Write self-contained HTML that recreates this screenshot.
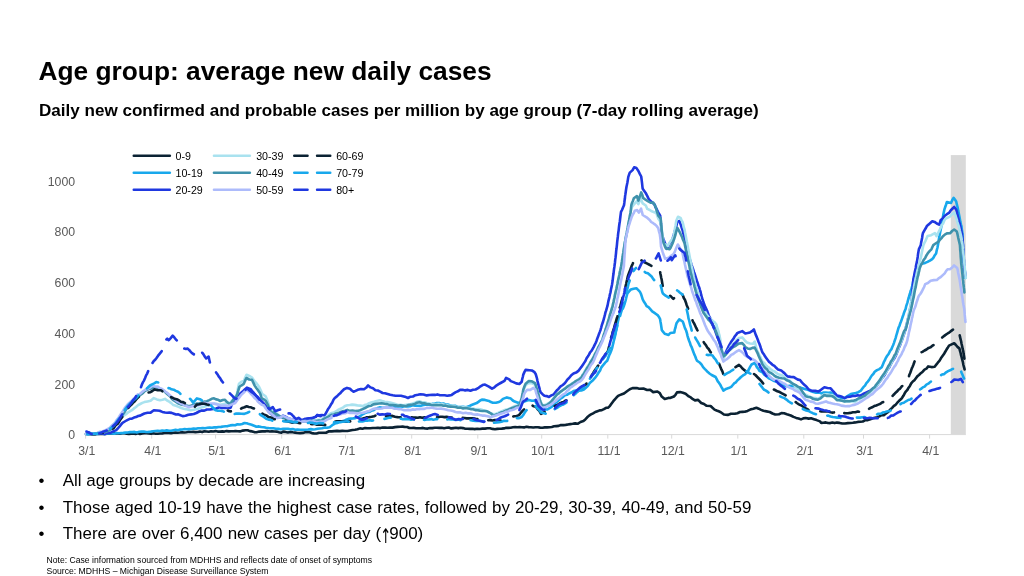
<!DOCTYPE html>
<html lang="en"><head><meta charset="utf-8"><title>Age group: average new daily cases</title>
<style>
html,body{margin:0;padding:0;background:#fff}
body{width:1024px;height:576px;position:relative;overflow:hidden;font-family:"Liberation Sans",sans-serif;color:#000}
.t{position:absolute;white-space:nowrap;margin:0}
h1.t{left:38.5px;font-size:26.3px;line-height:30px;font-weight:bold}
h2.t{left:39px;font-size:17.07px;line-height:20px;font-weight:bold}
.b{font-size:16.97px;line-height:20px;left:38.6px}
.b span.d{display:inline-block;width:24.1px}
.ar{font-family:"DejaVu Sans",sans-serif;font-size:14px;display:inline-block;width:8px;text-align:center;transform:translate(-1.2px,2.9px) scale(0.95,1.45);transform-origin:50% 60%;font-weight:normal}
  .n{font-size:8.63px;line-height:10px;left:46.5px}
svg text.ax{font-family:"Liberation Sans",sans-serif;font-size:12.3px;fill:#595959}
svg text.lg{font-family:"Liberation Sans",sans-serif;font-size:10.67px;fill:#000}
</style></head><body>
<h1 class="t" style="top:56.19px">Age group: average new daily cases</h1>
<h2 class="t" style="top:101.39px">Daily new confirmed and probable cases per million by age group (7-day rolling average)</h2>
<svg width="1024" height="576" viewBox="0 0 1024 576" style="position:absolute;left:0;top:0">
<rect x="950.8" y="155.1" width="15" height="279.4" fill="#d9d9d9"/>
<line x1="85.6" y1="434.6" x2="965.8" y2="434.6" stroke="#d9d9d9" stroke-width="1"/>
<line x1="85.6" y1="434.6" x2="85.6" y2="438.6" stroke="#d9d9d9" stroke-width="1"/>
<text x="86.8" y="454.6" text-anchor="middle" class="ax">3/1</text>
<line x1="151.7" y1="434.6" x2="151.7" y2="438.6" stroke="#d9d9d9" stroke-width="1"/>
<text x="152.9" y="454.6" text-anchor="middle" class="ax">4/1</text>
<line x1="215.6" y1="434.6" x2="215.6" y2="438.6" stroke="#d9d9d9" stroke-width="1"/>
<text x="216.8" y="454.6" text-anchor="middle" class="ax">5/1</text>
<line x1="281.7" y1="434.6" x2="281.7" y2="438.6" stroke="#d9d9d9" stroke-width="1"/>
<text x="282.9" y="454.6" text-anchor="middle" class="ax">6/1</text>
<line x1="345.6" y1="434.6" x2="345.6" y2="438.6" stroke="#d9d9d9" stroke-width="1"/>
<text x="346.8" y="454.6" text-anchor="middle" class="ax">7/1</text>
<line x1="411.7" y1="434.6" x2="411.7" y2="438.6" stroke="#d9d9d9" stroke-width="1"/>
<text x="412.9" y="454.6" text-anchor="middle" class="ax">8/1</text>
<line x1="477.8" y1="434.6" x2="477.8" y2="438.6" stroke="#d9d9d9" stroke-width="1"/>
<text x="479.0" y="454.6" text-anchor="middle" class="ax">9/1</text>
<line x1="541.7" y1="434.6" x2="541.7" y2="438.6" stroke="#d9d9d9" stroke-width="1"/>
<text x="542.9" y="454.6" text-anchor="middle" class="ax">10/1</text>
<line x1="607.8" y1="434.6" x2="607.8" y2="438.6" stroke="#d9d9d9" stroke-width="1"/>
<text x="609.0" y="454.6" text-anchor="middle" class="ax">11/1</text>
<line x1="671.7" y1="434.6" x2="671.7" y2="438.6" stroke="#d9d9d9" stroke-width="1"/>
<text x="672.9" y="454.6" text-anchor="middle" class="ax">12/1</text>
<line x1="737.8" y1="434.6" x2="737.8" y2="438.6" stroke="#d9d9d9" stroke-width="1"/>
<text x="739.0" y="454.6" text-anchor="middle" class="ax">1/1</text>
<line x1="803.8" y1="434.6" x2="803.8" y2="438.6" stroke="#d9d9d9" stroke-width="1"/>
<text x="805.0" y="454.6" text-anchor="middle" class="ax">2/1</text>
<line x1="863.5" y1="434.6" x2="863.5" y2="438.6" stroke="#d9d9d9" stroke-width="1"/>
<text x="864.7" y="454.6" text-anchor="middle" class="ax">3/1</text>
<line x1="929.6" y1="434.6" x2="929.6" y2="438.6" stroke="#d9d9d9" stroke-width="1"/>
<text x="930.8" y="454.6" text-anchor="middle" class="ax">4/1</text>
<text x="75.1" y="439.4" text-anchor="end" class="ax">0</text>
<text x="75.1" y="388.7" text-anchor="end" class="ax">200</text>
<text x="75.1" y="337.9" text-anchor="end" class="ax">400</text>
<text x="75.1" y="287.2" text-anchor="end" class="ax">600</text>
<text x="75.1" y="236.4" text-anchor="end" class="ax">800</text>
<text x="75.1" y="185.7" text-anchor="end" class="ax">1000</text>
<path d="M86.0,434.0 L88.4,433.9 L90.9,433.7 L93.3,434.1 L95.7,433.6 L98.1,434.0 L100.6,433.9 L103.0,433.6 L105.4,433.9 L107.9,433.5 L110.3,433.7 L112.7,433.4 L115.1,433.3 L117.6,433.5 L120.0,433.8 L122.2,433.2 L124.4,433.3 L126.7,433.6 L128.9,433.9 L131.1,433.6 L133.3,433.4 L135.6,433.9 L137.8,433.2 L140.0,433.9 L142.2,433.4 L144.4,433.3 L146.7,433.2 L148.9,433.4 L151.1,433.8 L153.3,433.3 L155.6,433.7 L157.8,433.7 L160.0,433.5 L162.2,433.5 L164.4,433.0 L166.6,432.9 L168.9,432.9 L171.1,433.1 L173.3,432.8 L175.5,432.6 L177.7,432.7 L179.9,432.5 L182.1,432.2 L184.4,432.5 L186.6,432.3 L188.8,431.8 L191.0,432.0 L193.2,431.9 L195.5,432.1 L197.7,432.0 L199.9,431.6 L202.1,432.1 L204.4,431.3 L206.6,431.5 L208.8,431.8 L211.0,431.2 L213.3,431.5 L215.5,431.1 L217.7,431.6 L220.0,431.6 L222.2,431.4 L224.4,431.6 L226.6,431.1 L228.9,431.4 L231.1,431.2 L233.3,431.2 L235.5,431.0 L237.8,431.3 L240.0,431.4 L242.8,430.6 L245.5,430.3 L247.7,430.2 L249.9,431.1 L252.1,431.4 L254.3,432.1 L256.5,432.3 L259.3,431.6 L262.2,431.4 L265.0,431.4 L267.3,431.0 L269.7,431.5 L272.0,431.4 L274.3,431.5 L276.7,431.6 L279.0,432.3 L281.4,432.7 L283.0,431.6 L285.4,431.9 L287.9,432.4 L290.3,431.9 L292.7,432.3 L295.1,432.6 L297.6,433.0 L300.0,433.1 L302.9,432.9 L305.8,432.1 L308.8,432.0 L311.9,433.1 L314.2,433.5 L316.6,433.5 L318.9,432.8 L321.3,432.7 L323.6,432.7 L326.0,432.7 L329.0,431.3 L331.7,431.4 L334.3,431.1 L337.0,430.9 L339.7,431.1 L342.3,430.9 L345.0,431.0 L347.5,431.0 L350.0,430.5 L352.5,430.0 L355.0,429.7 L357.5,429.3 L360.0,428.4 L362.5,428.7 L365.0,428.1 L367.6,428.3 L370.2,428.3 L372.8,428.0 L375.4,428.0 L377.8,427.7 L380.3,428.1 L382.7,427.6 L385.1,427.6 L387.6,427.7 L390.0,427.6 L392.5,427.6 L395.1,427.1 L397.6,426.9 L400.2,426.8 L402.7,426.6 L404.9,427.0 L407.1,427.0 L409.4,428.0 L411.6,428.0 L413.8,427.9 L416.0,428.2 L418.3,428.2 L420.7,428.2 L423.0,427.9 L425.3,428.5 L427.7,428.6 L430.0,428.1 L432.3,428.1 L434.7,427.7 L437.0,427.7 L439.4,427.9 L441.7,427.8 L444.1,428.3 L446.5,427.8 L448.8,427.6 L451.2,428.4 L453.5,428.1 L455.9,427.8 L458.3,428.1 L460.6,427.7 L463.0,428.1 L465.3,428.7 L467.6,428.8 L470.0,428.9 L472.3,428.8 L474.6,429.1 L477.2,428.7 L479.8,429.0 L482.4,428.6 L485.0,428.6 L487.5,428.3 L490.0,428.3 L492.5,428.9 L495.0,429.2 L497.2,428.9 L499.5,428.7 L501.7,428.6 L504.0,428.4 L506.2,427.8 L508.4,427.9 L510.7,427.7 L512.9,427.3 L515.2,427.1 L517.4,427.2 L519.6,427.0 L521.9,427.3 L524.1,427.4 L526.4,426.8 L528.6,427.1 L530.9,427.3 L533.2,427.5 L535.5,427.2 L537.9,427.3 L540.2,427.6 L542.5,427.7 L544.8,427.4 L547.1,427.4 L549.5,427.3 L551.8,427.0 L554.1,426.3 L556.4,426.1 L558.7,425.9 L561.0,425.0 L563.3,425.1 L565.7,424.9 L568.0,424.5 L570.3,424.1 L572.7,423.8 L575.2,423.4 L577.6,423.8 L580.5,422.0 L583.4,421.0 L585.3,419.4 L587.2,417.3 L589.1,415.6 L591.0,414.4 L593.1,413.4 L595.3,412.0 L597.5,411.2 L599.6,410.4 L601.8,410.2 L603.9,409.2 L606.1,407.8 L608.2,407.6 L610.0,405.8 L611.6,403.5 L613.3,401.2 L614.9,399.3 L616.5,397.5 L618.1,395.9 L619.7,395.1 L621.9,394.3 L624.0,393.5 L627.0,391.2 L629.8,389.2 L632.5,388.1 L636.8,388.1 L639.2,388.7 L643.4,388.5 L647.1,390.0 L650.1,389.7 L653.2,392.1 L657.4,391.5 L659.8,393.1 L661.7,396.6 L664.7,399.0 L668.4,397.9 L670.0,398.0 L673.9,396.5 L675.5,394.8 L677.0,392.4 L680.2,392.1 L682.9,392.7 L685.6,393.7 L688.8,396.4 L690.8,397.4 L692.9,399.2 L695.0,400.4 L698.1,399.9 L701.2,403.0 L704.0,404.0 L706.7,405.8 L710.6,406.0 L712.5,407.8 L714.5,409.6 L716.6,410.5 L718.7,411.3 L720.8,412.2 L723.9,414.5 L727.8,414.9 L730.9,413.8 L734.8,413.8 L737.4,413.2 L740.0,412.0 L742.4,411.9 L744.7,411.8 L747.5,410.9 L750.2,409.6 L753.3,408.7 L756.4,407.7 L758.7,408.7 L761.1,409.9 L763.4,410.8 L766.5,411.4 L769.7,412.0 L772.5,413.5 L775.2,414.5 L779.0,414.2 L781.4,413.1 L784.1,413.3 L786.9,414.3 L790.8,415.5 L793.5,416.9 L796.2,417.9 L798.6,418.5 L801.0,419.4 L803.3,418.4 L805.6,418.0 L808.8,418.6 L811.1,418.3 L813.9,419.2 L816.6,420.1 L820.0,421.4 L821.2,422.9 L823.5,422.8 L825.7,422.4 L828.0,423.0 L830.2,423.1 L832.4,422.5 L834.7,423.1 L836.9,422.6 L839.6,422.9 L842.3,423.5 L845.1,423.5 L847.8,423.1 L850.3,423.0 L852.8,422.8 L855.3,422.4 L857.8,421.9 L860.3,421.7 L862.8,421.5 L865.3,420.2 L867.8,420.1 L870.3,419.3 L872.8,418.3 L875.0,417.8 L877.2,417.3 L879.4,416.4 L881.6,415.2 L883.8,415.2 L886.0,413.4 L888.2,411.9 L890.4,409.5 L892.1,407.9 L893.9,405.9 L895.6,404.8 L897.3,402.7 L899.1,400.8 L900.8,399.3 L902.1,397.8 L903.4,395.8 L904.7,393.3 L906.0,391.3 L907.3,390.0 L908.6,387.7 L909.9,385.9 L911.2,383.4 L912.8,381.5 L914.4,380.2 L915.9,378.2 L917.5,376.1 L919.0,375.0 L920.8,373.2 L922.7,371.7 L924.5,369.6 L926.4,368.7 L928.2,366.4 L931.5,367.1 L934.7,366.8 L936.3,364.6 L937.8,362.7 L939.4,360.9 L940.9,358.3 L942.5,356.1 L943.8,354.3 L945.1,352.0 L946.4,349.8 L947.7,347.8 L949.0,345.6 L951.6,344.4 L954.2,343.2 L955.9,345.0 L957.7,347.1 L959.4,348.4 L960.0,350.9 L960.6,353.0 L961.1,355.4 L961.7,357.4 L962.3,359.9 L962.9,362.1 L963.4,365.0 L964.0,367.1 L964.6,369.4" fill="none" stroke="#0b2233" stroke-width="2.6" stroke-linejoin="round" stroke-linecap="round"/>
<path d="M86.0,434.0 L88.4,433.7 L90.8,433.9 L93.2,434.2 L95.6,433.5 L98.0,434.0 L100.4,433.6 L102.8,433.6 L105.2,433.9 L107.6,433.5 L110.0,433.5 L112.2,433.5 L114.4,433.7 L116.7,433.0 L118.9,433.3 L121.1,433.1 L123.3,432.9 L125.6,432.6 L127.8,432.5 L130.0,432.1 L132.3,432.1 L134.6,431.9 L136.9,432.4 L139.2,431.8 L141.5,431.6 L143.8,431.5 L146.2,432.0 L148.5,431.9 L150.8,431.6 L153.1,431.2 L155.4,431.0 L157.7,430.9 L160.0,431.0 L162.2,430.6 L164.5,430.7 L166.7,430.4 L168.9,430.8 L171.2,430.7 L173.4,430.2 L175.6,429.8 L177.9,430.2 L180.1,429.6 L182.3,429.5 L184.6,429.0 L186.8,429.2 L189.0,429.1 L191.2,429.0 L193.6,428.6 L195.9,428.8 L198.2,428.2 L200.5,428.3 L202.8,428.0 L205.1,428.2 L207.4,427.8 L209.7,427.6 L212.0,427.7 L214.2,427.4 L216.5,427.4 L218.7,427.0 L221.0,426.9 L223.2,426.5 L225.5,426.3 L227.7,426.1 L230.2,425.4 L232.6,425.1 L235.1,425.3 L237.5,424.3 L240.0,424.5 L242.2,424.0 L244.5,423.0 L246.7,423.2 L249.1,424.1 L251.6,424.8 L254.1,425.8 L256.5,426.8 L258.9,426.4 L261.3,427.0 L263.8,427.2 L266.2,427.7 L268.6,428.0 L271.0,428.2 L273.5,428.3 L275.9,428.8 L278.4,428.9 L280.8,429.2 L283.2,428.8 L285.6,428.8 L288.0,428.9 L290.4,429.2 L292.8,429.0 L295.2,429.7 L297.6,429.6 L300.0,429.7 L302.7,429.7 L305.4,429.7 L308.1,429.5 L310.8,429.1 L313.1,429.5 L315.3,429.2 L317.6,428.7 L319.9,428.5 L322.1,428.3 L324.4,427.5 L327.0,427.8 L329.6,427.2 L332.2,425.2 L334.8,423.6 L337.2,423.1 L339.6,421.7 L342.0,421.3 L344.1,420.8 L346.2,419.7 L348.3,418.9 L350.6,418.6 L353.0,418.4 L355.4,418.1 L357.7,417.6 L360.1,416.2 L362.6,414.3 L365.0,413.0 L367.1,412.3 L369.1,412.0 L371.2,410.8 L373.3,410.3 L375.4,408.9 L377.5,408.1 L379.6,407.4 L382.2,407.7 L384.8,407.8 L387.4,407.7 L390.0,407.4 L392.5,407.3 L395.0,407.0 L397.5,406.7 L400.0,406.2 L402.5,406.7 L405.0,405.9 L407.5,406.4 L410.0,406.2 L412.5,405.3 L415.0,405.6 L417.5,405.8 L420.0,405.9 L422.5,405.2 L425.0,404.8 L427.5,404.5 L430.0,404.9 L432.2,403.9 L434.5,403.8 L436.8,403.1 L439.0,403.0 L441.2,403.8 L443.4,403.5 L445.6,404.5 L447.8,404.6 L450.0,405.3 L452.5,405.7 L455.0,405.8 L457.5,406.8 L460.0,407.0 L463.1,406.9 L466.2,407.2 L468.9,406.3 L471.5,405.0 L474.1,404.0 L476.7,403.1 L478.4,401.9 L480.2,400.5 L481.9,399.6 L485.0,399.9 L488.9,400.9 L490.9,402.1 L492.8,402.7 L495.9,402.8 L499.0,402.0 L501.0,400.8 L503.0,398.9 L506.9,397.4 L510.8,398.6 L512.8,400.5 L514.7,401.6 L518.6,402.9 L521.7,402.5 L524.1,401.6 L526.4,400.7 L528.8,400.0 L531.9,400.8 L535.0,400.5 L536.2,403.0 L537.5,404.4 L538.7,406.3 L540.9,408.3 L543.0,409.7 L545.2,409.4 L547.4,409.5 L549.5,408.1 L551.7,406.8 L553.9,404.5 L556.1,402.5 L558.2,400.8 L560.4,398.7 L562.6,397.4 L564.8,395.3 L567.0,394.8 L569.1,393.5 L571.3,392.5 L573.5,391.1 L576.1,390.5 L578.7,390.0 L581.3,390.5 L583.9,389.5 L585.6,388.1 L587.4,386.4 L589.1,383.9 L590.9,381.9 L593.0,380.2 L595.2,377.6 L596.8,375.5 L598.5,372.8 L600.1,370.5 L601.2,367.6 L602.7,365.6 L604.2,363.8 L605.7,362.0 L607.2,360.7 L608.2,358.0 L609.2,355.3 L610.1,353.4 L611.1,351.1 L612.1,348.2 L612.7,345.5 L613.3,343.2 L613.8,340.8 L614.4,338.6 L615.0,336.1 L615.5,333.9 L615.9,331.7 L616.4,329.7 L616.8,327.7 L617.2,325.4 L617.7,322.8 L618.1,320.6 L618.6,318.4 L619.0,316.0 L619.5,313.8 L620.6,311.6 L621.8,309.8 L622.9,308.4 L624.0,305.7 L624.7,303.5 L625.4,301.1 L626.0,298.8 L626.7,295.8 L627.4,293.3 L629.1,291.3 L630.8,289.5 L633.6,288.7 L636.4,288.3 L638.1,289.9 L639.8,291.6 L640.8,293.5 L641.7,296.2 L642.7,299.4 L644.0,301.8 L645.3,303.7 L646.6,306.1 L648.5,307.2 L650.3,309.2 L652.2,311.4 L654.1,312.6 L656.0,314.0 L657.9,315.4 L659.0,317.0 L660.1,319.2 L660.5,321.8 L661.0,324.6 L661.4,327.3 L661.8,330.1 L663.2,331.8 L664.7,333.7 L668.6,334.9 L670.3,333.0 L674.3,332.5 L674.8,329.7 L675.4,327.9 L676.0,325.1 L676.5,323.3 L677.9,321.3 L679.3,319.3 L682.7,321.5 L683.6,323.8 L684.4,326.4 L685.2,328.7 L686.1,330.5 L686.9,333.1 L687.6,336.1 L688.4,338.8 L689.1,340.7 L689.9,342.7 L690.6,345.1 L691.5,346.8 L692.4,349.3 L693.3,351.7 L694.3,354.4 L695.2,356.3 L696.1,358.8 L697.0,360.7 L700.0,362.8 L701.6,364.7 L703.1,367.2 L704.7,368.9 L706.2,370.4 L707.8,372.1 L709.8,373.7 L711.7,375.0 L713.6,376.0 L715.6,377.0 L716.7,379.2 L717.8,381.4 L718.9,382.7 L720.1,384.4 L721.2,386.6 L722.3,388.5 L723.4,390.7 L726.0,388.9 L728.6,388.1 L731.2,386.8 L732.8,385.0 L734.4,383.2 L735.9,382.3 L737.5,380.2 L739.0,379.0 L741.0,377.0 L743.0,375.4 L744.9,374.3 L746.9,372.3 L748.1,370.9 L749.2,368.6 L750.4,366.4 L751.6,364.5 L754.7,362.9 L755.9,365.1 L757.0,367.4 L758.2,368.7 L759.4,370.9 L762.5,372.3 L764.1,374.5 L765.6,375.3 L767.2,376.8 L768.8,378.4 L771.1,379.4 L773.4,380.7 L775.8,381.4 L778.1,382.1 L780.1,383.5 L782.0,384.6 L784.0,385.3 L786.0,386.3 L790.0,385.9 L792.5,386.3 L795.0,386.2 L797.5,387.3 L800.0,387.6 L802.5,388.2 L804.7,388.9 L806.9,389.6 L809.0,390.2 L811.2,391.2 L813.4,392.1 L816.0,392.8 L818.6,392.4 L821.2,393.4 L823.6,392.6 L825.9,392.5 L828.3,392.7 L830.6,392.5 L832.7,393.7 L834.8,395.0 L836.9,396.9 L839.5,397.3 L842.1,398.3 L844.7,398.1 L846.5,396.7 L848.3,395.6 L850.8,394.1 L853.3,393.5 L855.8,393.0 L858.3,392.2 L860.8,390.7 L862.2,388.8 L863.6,386.9 L865.0,385.6 L866.4,383.1 L867.8,381.6 L869.2,379.8 L870.6,377.4 L871.9,375.4 L873.3,374.0 L874.7,371.8 L877.0,370.1 L879.4,369.1 L881.7,367.3 L882.7,364.9 L883.8,362.2 L884.8,360.4 L885.8,358.1 L887.2,355.8 L888.6,354.0 L890.0,351.1 L891.4,349.2 L892.2,347.2 L893.1,345.3 L893.9,343.1 L894.8,340.4 L895.6,338.1 L896.3,335.5 L897.1,332.8 L897.8,330.4 L898.6,327.6 L899.4,326.0 L900.1,323.8 L900.9,321.8 L901.7,319.6 L902.5,317.3 L903.3,315.0 L904.0,312.8 L904.8,310.8 L905.6,309.0 L906.2,306.2 L906.9,304.1 L907.5,302.4 L908.1,299.8 L908.8,297.5 L909.4,295.2 L910.0,293.5 L910.6,291.1 L911.3,289.5 L911.9,287.2 L912.5,285.1 L913.0,282.2 L913.6,279.8 L914.1,277.6 L914.7,275.7 L915.2,273.7 L915.8,271.2 L917.4,268.7 L918.9,266.5 L920.5,264.3 L922.9,263.6 L925.2,262.9 L927.5,261.9 L929.9,260.7 L932.2,259.2 L933.5,257.7 L934.8,255.2 L936.1,253.4 L936.7,250.4 L937.4,248.0 L938.0,244.7 L938.4,242.3 L938.8,239.8 L939.2,237.2 L939.6,235.3 L940.1,232.5 L940.7,229.7 L941.2,227.1 L941.7,225.0 L942.1,222.1 L942.5,219.3 L942.9,217.3 L943.3,214.6 L943.8,212.4 L944.5,209.1 L945.3,206.8 L946.1,204.5 L946.9,202.0 L951.0,203.0 L952.3,200.0 L953.6,197.8 L954.9,199.5 L956.2,201.4 L957.0,205.2 L957.8,208.1 L958.2,210.6 L958.6,212.5 L959.1,215.1 L959.5,217.1 L959.9,219.2 L960.4,222.1 L961.0,224.6 L961.5,226.4 L961.8,229.2 L962.2,231.7 L962.5,233.8 L962.6,236.2 L962.6,238.2 L962.7,240.6 L962.8,242.9 L962.9,245.4 L962.9,247.8 L963.0,249.7 L963.1,251.8 L963.2,254.3 L963.2,256.9 L963.3,258.7 L963.6,261.2 L963.8,263.5 L964.1,266.4 L964.3,268.5 L964.6,270.5 L964.9,272.9 L965.1,275.5 L965.4,278.0" fill="none" stroke="#18a8ec" stroke-width="2.6" stroke-linejoin="round" stroke-linecap="round"/>
<path d="M86.5,431.5 L86.6,431.7 L88.1,432.2 L91.2,433.4 L93.5,433.4 L95.7,433.9 L97.9,433.6 L100.1,433.5 L102.3,433.5 L104.5,434.1 L107.7,432.9 L110.8,432.6 L113.5,431.2 L116.2,430.1 L117.8,428.5 L119.4,426.7 L121.0,424.6 L122.5,422.8 L125.6,421.0 L127.7,419.8 L129.8,418.8 L131.9,418.7 L134.0,417.6 L136.0,417.1 L138.1,416.0 L140.2,415.6 L142.3,414.5 L144.4,413.5 L147.5,412.8 L150.6,412.6 L153.8,410.3 L156.9,410.5 L159.6,410.7 L162.3,411.9 L165.0,412.5 L167.2,412.8 L169.5,412.6 L171.7,412.9 L173.9,413.7 L176.1,414.5 L178.3,414.4 L180.5,415.3 L182.7,416.1 L185.5,415.8 L188.4,414.8 L191.2,414.4 L193.8,414.0 L196.4,413.0 L199.0,411.5 L201.6,410.5 L204.3,410.6 L206.9,409.5 L210.0,409.5 L213.1,408.9 L216.2,408.5 L219.4,407.3 L221.7,408.0 L224.1,407.6 L226.4,407.9 L230.3,407.9 L230.8,407.3 L232.0,403.7 L233.1,401.8 L234.1,400.0 L235.2,398.1 L237.0,396.4 L238.8,394.7 L240.6,393.2 L242.6,391.6 L244.5,389.8 L246.9,387.6 L250.8,389.2 L252.4,391.5 L253.9,393.0 L255.9,395.6 L257.8,397.0 L259.4,399.0 L260.9,400.5 L262.5,402.1 L264.4,404.2 L266.4,406.6 L267.6,409.4 L268.9,411.9 L270.9,413.7 L272.8,415.1 L275.1,416.6 L277.5,417.8 L280.2,417.1 L283.0,415.8 L285.7,416.8 L288.4,418.4 L291.5,419.2 L294.7,419.8 L297.0,419.8 L299.4,420.3 L301.7,420.3 L304.8,418.9 L307.2,418.9 L309.5,418.3 L311.9,418.4 L315.8,416.9 L317.3,414.9 L319.7,415.4 L322.0,415.0 L324.4,415.6 L325.7,413.5 L327.0,411.2 L328.3,408.7 L329.6,407.0 L330.9,404.6 L332.2,402.7 L333.5,399.7 L334.8,398.0 L336.6,396.6 L338.4,394.8 L340.2,393.3 L342.0,391.2 L344.0,389.3 L347.0,387.9 L350.0,388.8 L351.8,390.5 L353.5,391.7 L355.6,390.9 L357.7,389.8 L360.9,389.0 L364.0,389.3 L366.1,387.8 L368.1,385.4 L370.5,387.4 L373.0,388.3 L375.4,390.2 L377.8,390.5 L380.2,391.7 L382.6,393.0 L385.0,393.3 L387.6,394.0 L390.2,394.8 L392.8,395.3 L395.4,395.7 L398.2,395.8 L401.0,395.8 L403.8,396.5 L405.9,397.1 L408.0,398.0 L410.5,396.7 L413.0,396.5 L415.4,395.2 L417.9,394.8 L420.4,394.2 L423.5,394.5 L426.7,395.4 L429.5,395.0 L432.2,394.8 L435.0,394.9 L437.4,394.4 L439.9,395.3 L442.3,395.2 L444.7,395.2 L447.2,395.7 L449.6,395.4 L451.7,394.9 L453.8,393.4 L455.8,392.1 L457.9,391.3 L460.0,389.9 L462.6,389.8 L465.2,390.4 L467.8,389.9 L470.4,390.7 L473.0,389.7 L475.6,389.5 L478.1,388.2 L480.5,386.3 L483.0,384.8 L484.2,384.8 L485.0,384.6 L488.9,386.6 L492.0,388.7 L494.4,387.3 L496.7,385.3 L498.6,384.1 L500.6,383.0 L504.5,380.8 L506.1,377.8 L509.2,379.3 L510.8,381.1 L513.5,382.1 L516.2,383.4 L519.4,384.0 L521.7,381.8 L522.2,379.2 L522.8,377.0 L523.3,374.6 L524.5,371.9 L525.6,369.9 L529.5,370.2 L531.9,370.5 L534.2,371.8 L535.8,374.3 L536.4,376.4 L537.0,378.5 L537.5,381.1 L538.1,383.4 L538.7,385.7 L539.3,387.7 L539.9,390.0 L540.5,392.1 L542.5,394.2 L544.4,395.7 L546.7,396.1 L549.0,396.9 L551.4,395.4 L553.8,394.4 L555.3,392.4 L556.9,390.2 L558.4,388.9 L560.6,386.4 L562.8,385.0 L565.0,383.0 L566.4,381.1 L567.7,379.2 L569.1,378.0 L571.3,375.2 L573.5,373.5 L576.1,372.6 L578.7,370.6 L580.0,368.7 L581.4,366.9 L582.9,364.7 L584.3,362.6 L585.5,360.8 L586.6,358.3 L587.8,356.5 L589.0,354.6 L590.1,352.4 L591.3,351.2 L592.5,349.1 L593.6,347.1 L594.8,344.6 L595.6,343.1 L596.5,340.9 L597.3,338.5 L598.1,336.6 L598.9,334.2 L599.8,331.9 L600.6,329.7 L601.2,327.6 L601.8,325.2 L602.5,323.3 L603.1,321.5 L603.7,319.3 L604.3,317.2 L604.9,314.9 L605.5,312.3 L606.2,310.4 L606.8,308.1 L607.4,306.2 L607.9,303.7 L608.4,301.1 L608.9,299.1 L609.4,297.1 L610.0,294.1 L610.5,292.3 L611.0,289.3 L611.5,287.1 L612.0,284.8 L612.3,282.9 L612.6,280.8 L612.9,278.3 L613.2,275.7 L613.5,273.8 L613.8,271.1 L614.1,268.7 L614.4,266.9 L614.7,264.4 L615.0,262.2 L615.2,259.9 L615.5,257.9 L615.8,255.2 L616.0,253.3 L616.2,250.9 L616.5,248.8 L616.8,246.2 L617.0,244.2 L617.2,241.8 L617.5,239.3 L617.8,237.0 L618.0,235.1 L618.3,232.4 L618.6,230.8 L618.9,227.9 L619.2,225.5 L619.5,223.3 L619.8,221.7 L620.1,219.0 L620.4,216.5 L620.7,214.2 L621.0,211.9 L622.0,210.0 L623.0,207.5 L624.0,205.2 L624.3,203.0 L624.6,200.3 L624.9,198.5 L625.1,196.1 L625.4,194.3 L625.7,192.2 L626.0,190.0 L626.5,186.8 L626.9,185.0 L627.4,182.5 L627.8,180.1 L628.3,176.9 L629.0,174.8 L629.8,172.6 L632.6,170.1 L634.1,167.3 L636.5,168.1 L638.4,171.0 L639.8,173.9 L641.2,176.5 L641.5,178.7 L641.8,181.1 L642.1,183.6 L642.4,186.6 L642.7,188.7 L644.1,190.7 L645.5,192.7 L646.5,194.5 L647.6,196.7 L648.6,198.8 L650.2,200.8 L651.7,202.1 L654.8,204.8 L655.4,207.0 L656.6,209.0 L657.8,211.6 L659.0,213.8 L660.2,215.7 L660.4,218.4 L660.7,220.8 L660.9,223.5 L661.1,225.5 L661.3,228.2 L661.5,230.5 L661.8,232.6 L662.0,235.5 L662.8,237.1 L663.6,239.9 L664.4,241.6 L665.2,243.7 L666.0,246.1 L666.8,248.8 L668.0,247.1 L669.1,244.3 L670.3,242.8 L671.4,240.9 L672.6,239.2 L673.2,236.6 L673.8,234.7 L674.4,232.5 L675.0,230.8 L675.6,228.2 L676.2,226.6 L676.8,223.9 L677.4,221.8 L679.5,221.0 L680.2,223.2 L681.0,225.3 L681.8,228.1 L682.5,230.0 L683.2,233.0 L684.0,235.4 L684.5,237.8 L685.0,240.1 L685.5,242.2 L686.0,244.7 L686.4,247.0 L686.9,249.9 L687.4,251.6 L687.9,254.6 L688.9,256.6 L689.8,259.5 L690.8,262.3 L691.6,265.1 L692.3,267.0 L693.1,269.2 L693.9,271.9 L694.6,273.6 L695.4,276.1 L696.1,278.4 L696.9,280.9 L697.7,283.2 L698.4,285.4 L699.2,287.4 L699.9,289.8 L700.6,292.0 L701.2,295.0 L701.9,297.3 L702.6,299.8 L703.3,301.7 L704.2,304.2 L705.1,306.7 L706.1,308.7 L707.0,310.5 L707.9,313.0 L708.8,315.6 L709.8,317.3 L710.7,319.4 L711.6,321.7 L712.4,324.3 L713.3,326.5 L714.1,328.1 L715.0,330.3 L715.8,332.6 L716.6,334.8 L717.5,337.2 L718.3,339.1 L719.2,341.4 L720.0,343.4 L720.6,346.3 L721.1,348.3 L721.7,350.0 L722.3,352.9 L722.8,354.4 L723.4,356.8 L724.5,355.2 L725.5,353.0 L726.5,350.8 L727.6,348.5 L728.7,346.2 L729.7,344.5 L731.0,342.1 L732.3,340.3 L733.6,338.5 L734.9,336.2 L736.2,334.6 L737.5,332.9 L739.9,332.1 L742.2,331.1 L745.3,333.5 L747.6,333.0 L750.0,332.4 L752.0,331.2 L753.9,329.4 L754.9,332.3 L755.8,334.9 L756.8,337.1 L757.8,339.8 L758.6,342.0 L759.4,343.8 L760.1,345.7 L760.9,348.2 L761.7,350.4 L762.5,352.4 L763.8,354.2 L765.0,356.3 L766.2,358.0 L767.5,359.8 L768.8,361.6 L770.6,363.0 L772.5,364.8 L774.4,365.9 L776.2,367.8 L778.1,369.6 L781.2,370.4 L782.8,371.9 L784.4,373.1 L785.9,374.8 L787.5,376.4 L790.6,376.9 L793.8,377.1 L795.8,378.4 L797.9,379.6 L800.0,380.0 L801.7,382.1 L803.4,384.0 L805.1,385.4 L806.9,387.2 L808.6,389.3 L810.3,390.2 L812.9,390.9 L815.4,390.8 L818.0,391.6 L820.1,390.5 L822.3,388.8 L824.4,387.2 L827.5,388.0 L830.6,388.3 L832.2,390.2 L833.8,391.8 L835.3,393.7 L836.9,395.6 L839.5,396.1 L842.1,396.8 L844.7,398.1 L847.3,396.9 L849.9,396.7 L852.5,395.9 L855.1,396.0 L857.7,395.2 L860.3,395.7 L863.1,394.0 L866.0,392.6 L869.0,391.3 L871.1,390.1 L873.2,388.4 L875.3,387.4 L876.7,385.6 L878.1,383.9 L879.5,381.8 L880.9,379.9 L882.3,378.0 L883.7,376.2 L885.1,374.2 L886.4,371.6 L887.8,369.2 L889.2,367.5 L890.4,365.0 L891.5,362.8 L892.7,360.6 L893.9,359.0 L895.0,357.0 L896.2,354.7 L897.1,352.3 L898.0,350.0 L899.0,347.4 L899.9,345.7 L900.8,342.9 L901.7,340.8 L902.4,338.8 L903.1,336.7 L903.9,334.3 L904.6,332.0 L905.3,330.0 L905.8,327.5 L906.4,326.0 L906.9,323.4 L907.4,321.7 L907.9,319.1 L908.5,317.0 L909.0,314.8 L909.4,312.8 L909.8,310.4 L910.2,308.1 L910.7,306.5 L911.1,304.0 L911.5,301.8 L911.7,299.4 L911.9,297.2 L912.1,294.7 L912.3,292.5 L912.5,290.1 L912.7,287.7 L912.9,286.0 L913.0,283.7 L913.2,280.8 L913.4,279.3 L913.9,277.1 L914.3,274.8 L914.8,272.0 L915.2,270.4 L915.7,268.0 L916.1,265.2 L916.6,263.0 L917.0,261.4 L917.4,258.9 L917.8,256.2 L918.1,253.7 L918.5,251.4 L918.9,249.2 L919.8,247.4 L920.8,244.9 L921.2,242.3 L921.6,240.5 L922.1,238.0 L922.5,235.0 L922.9,233.2 L924.3,230.6 L925.7,228.3 L927.1,225.7 L928.8,224.4 L930.6,222.7 L932.3,221.2 L934.6,221.9 L936.8,223.5 L939.1,224.6 L939.9,222.7 L940.6,220.3 L942.7,218.4 L944.8,215.7 L946.9,214.2 L949.0,212.9 L950.5,210.7 L952.1,209.0 L954.2,207.0 L956.2,209.5 L956.8,211.5 L957.3,214.0 L957.8,216.2 L958.5,219.1 L959.2,222.1 L959.9,224.2 L960.4,227.2 L961.0,229.3 L961.5,231.7 L962.0,234.1 L962.2,236.5 L962.4,238.3 L962.6,240.5 L962.8,243.2 L963.0,244.6 L963.1,247.4 L963.3,249.6 L963.4,251.4 L963.6,254.1 L963.7,256.4 L963.8,258.9 L964.0,260.6 L964.1,263.4 L964.3,265.3 L964.4,267.5 L964.8,270.7 L965.1,272.8 L965.5,276.0" fill="none" stroke="#1f38e0" stroke-width="2.6" stroke-linejoin="round" stroke-linecap="round"/>
<path d="M86.0,434.0 L88.2,434.2 L90.5,434.1 L92.8,433.9 L95.0,434.2 L97.9,433.2 L100.8,432.7 L103.2,432.1 L105.5,431.7 L108.2,429.9 L111.0,428.7 L112.8,426.9 L114.6,425.2 L116.5,423.6 L118.0,420.8 L119.6,418.9 L122.5,416.4 L125.6,414.5 L127.7,412.7 L129.8,411.4 L131.9,410.2 L134.0,408.4 L136.0,407.0 L138.1,405.1 L140.2,404.0 L142.3,402.9 L144.4,402.1 L147.5,401.4 L150.6,400.7 L153.8,398.1 L156.9,399.4 L160.0,400.3 L162.5,399.7 L165.0,398.9 L167.1,400.5 L169.2,401.6 L171.3,403.1 L173.4,405.1 L176.0,405.8 L178.6,406.9 L181.2,408.0 L183.6,408.7 L185.9,409.1 L188.3,409.7 L190.6,410.3 L193.8,409.8 L197.0,409.1 L199.6,408.3 L202.1,407.1 L204.7,406.6 L207.0,405.8 L209.3,405.5 L211.7,404.3 L214.0,403.7 L217.0,403.9 L220.0,404.7 L222.4,404.4 L224.8,403.8 L227.3,403.1 L229.7,403.1 L231.6,401.3 L233.6,399.4 L235.1,396.9 L236.7,394.8 L237.2,392.6 L237.6,390.2 L238.1,387.9 L238.5,385.8 L239.0,383.7 L241.4,381.8 L243.8,381.1 L245.1,377.7 L246.5,374.8 L250.0,376.2 L252.3,377.9 L254.7,381.4 L256.3,383.2 L257.8,385.0 L259.4,387.5 L260.8,390.6 L262.1,393.8 L265.6,396.2 L266.6,398.5 L267.6,401.2 L268.4,403.3 L269.1,406.1 L269.9,408.1 L271.6,410.2 L273.4,412.2 L273.5,411.1 L275.3,413.0 L277.1,413.8 L279.0,415.9 L280.8,416.5 L283.2,417.9 L285.7,418.0 L288.1,418.6 L290.6,419.9 L293.0,420.3 L295.4,420.8 L297.8,420.5 L300.1,420.5 L302.5,421.2 L304.8,421.0 L307.2,420.9 L309.5,420.7 L311.9,420.0 L314.2,420.2 L316.6,420.1 L318.9,419.7 L321.2,420.0 L323.3,418.1 L325.4,417.5 L327.5,416.0 L329.6,414.1 L331.7,412.9 L333.8,412.4 L335.9,411.5 L337.9,409.9 L340.0,409.0 L342.4,408.0 L344.9,406.1 L347.3,405.3 L349.7,405.0 L352.2,404.6 L354.6,404.9 L357.4,405.4 L360.2,405.6 L363.0,406.1 L365.1,404.8 L367.1,404.4 L369.2,403.2 L371.2,402.5 L374.0,401.8 L376.8,400.9 L379.6,400.2 L382.2,401.1 L384.8,401.7 L387.4,402.1 L390.0,402.5 L392.7,403.3 L395.4,404.1 L398.0,405.0 L400.6,404.9 L403.2,405.2 L405.8,404.9 L408.1,404.5 L410.3,404.2 L412.6,403.5 L414.9,402.7 L417.1,401.8 L419.4,401.3 L421.9,402.2 L424.4,402.3 L426.9,403.1 L429.4,403.6 L431.9,404.3 L434.2,404.4 L436.5,404.0 L438.7,403.9 L441.0,404.2 L443.3,404.4 L445.7,404.9 L448.2,405.5 L450.6,405.9 L453.0,405.5 L455.5,406.5 L457.9,406.9 L460.5,407.2 L463.1,407.2 L465.7,407.2 L468.3,407.9 L470.7,408.3 L473.1,408.6 L475.5,409.2 L477.8,409.1 L480.2,409.3 L482.6,410.1 L485.0,410.7 L487.2,411.2 L489.4,412.7 L491.7,413.9 L493.9,414.3 L496.2,413.7 L498.5,412.8 L500.9,411.7 L503.2,410.6 L505.5,409.7 L507.8,409.2 L510.0,408.4 L512.2,407.3 L514.5,406.1 L516.7,405.9 L518.9,405.0 L519.6,405.3 L520.4,403.2 L521.1,401.2 L521.9,398.8 L522.4,395.8 L523.0,393.0 L523.5,390.4 L524.6,387.5 L525.8,385.0 L528.8,383.0 L531.9,383.2 L535.0,384.5 L535.8,386.8 L536.5,388.8 L537.3,391.0 L537.9,393.0 L538.5,395.1 L539.1,398.2 L539.7,399.9 L540.9,402.3 L542.0,405.4 L544.4,405.1 L546.7,404.2 L549.0,403.0 L551.4,401.2 L553.2,399.0 L555.1,396.4 L556.9,394.1 L558.9,393.4 L561.0,391.7 L563.0,389.8 L565.0,388.4 L567.6,386.2 L570.3,384.7 L572.2,383.2 L574.0,382.4 L575.9,381.0 L577.8,379.8 L579.6,378.6 L581.5,376.8 L582.6,374.7 L583.8,372.9 L584.9,371.0 L586.1,369.1 L587.2,367.1 L588.3,365.6 L589.5,364.0 L590.6,361.8 L591.8,360.3 L592.9,358.3 L594.0,355.5 L595.0,353.9 L596.1,351.6 L597.2,349.2 L598.2,347.8 L599.3,345.1 L600.4,343.3 L601.4,341.2 L602.5,339.4 L603.2,336.8 L604.0,334.2 L604.8,332.0 L605.5,329.4 L606.2,327.7 L607.0,325.4 L607.6,322.7 L608.2,320.4 L608.9,318.5 L609.5,316.4 L610.1,314.8 L610.7,312.7 L611.4,310.5 L612.0,307.7 L612.6,306.2 L613.1,304.0 L613.6,301.7 L614.1,299.7 L614.6,296.7 L615.0,294.6 L615.5,292.9 L616.0,290.8 L616.5,288.4 L617.0,285.8 L617.5,283.9 L617.9,281.8 L618.4,279.0 L618.9,277.0 L619.4,274.7 L619.8,272.4 L620.3,270.4 L620.8,267.9 L621.2,265.8 L621.6,263.4 L622.0,261.5 L622.3,258.7 L622.7,256.9 L623.0,254.2 L623.4,251.8 L623.7,250.2 L624.1,247.3 L624.4,245.6 L624.8,243.2 L625.2,241.0 L625.6,238.2 L626.0,236.3 L626.5,233.8 L626.9,232.3 L627.3,230.1 L627.7,227.7 L628.1,225.4 L628.5,223.1 L628.9,221.3 L629.4,218.8 L629.8,216.8 L630.2,214.2 L630.6,212.1 L631.2,209.3 L631.8,207.2 L634.5,203.8 L636.9,201.1 L638.4,204.1 L639.6,200.8 L640.8,198.2 L641.1,199.4 L642.7,203.4 L645.8,205.5 L647.3,208.9 L649.3,209.7 L651.2,211.0 L654.4,212.4 L656.0,212.1 L657.3,215.7 L658.5,219.0 L659.8,220.8 L661.0,224.1 L661.3,226.3 L661.6,228.3 L661.9,230.9 L662.2,233.1 L662.6,235.5 L662.9,237.9 L663.2,240.4 L663.5,243.3 L665.6,244.7 L667.8,246.1 L669.2,243.2 L670.6,241.2 L672.1,239.5 L673.5,236.6 L673.9,234.9 L674.3,232.3 L674.7,230.5 L675.1,227.5 L675.5,225.8 L675.9,223.2 L676.3,220.7 L678.0,216.8 L680.5,217.9 L681.5,220.1 L682.6,222.2 L683.3,224.9 L683.9,227.8 L684.6,229.8 L685.0,232.3 L685.4,234.1 L685.8,236.3 L686.3,239.0 L686.7,241.2 L687.1,242.9 L687.5,245.0 L687.9,247.3 L688.3,249.9 L688.8,252.0 L689.2,254.0 L689.6,256.2 L690.1,258.8 L690.5,261.1 L691.0,263.4 L691.4,265.5 L691.9,267.4 L692.3,269.5 L692.8,272.3 L693.2,274.3 L693.7,276.8 L694.1,278.5 L694.6,281.3 L695.0,283.2 L695.7,285.9 L696.4,288.3 L697.1,290.3 L697.8,292.2 L698.5,295.3 L699.2,297.2 L699.9,299.9 L700.6,301.7 L701.2,303.9 L702.3,306.4 L703.3,308.0 L704.4,309.8 L705.4,312.0 L706.5,314.1 L707.5,315.6 L709.3,317.7 L711.1,319.3 L712.8,321.0 L714.6,322.3 L716.4,324.5 L717.0,326.8 L717.6,329.0 L718.3,330.8 L718.9,333.4 L719.5,335.3 L719.9,337.9 L720.3,339.6 L720.7,342.6 L721.1,345.0 L721.5,346.9 L721.8,349.2 L722.2,351.5 L722.6,353.8 L723.0,355.7 L723.4,358.8 L724.7,356.1 L726.0,354.0 L727.3,351.9 L728.6,349.9 L729.9,348.3 L731.2,345.6 L732.8,344.1 L734.4,343.0 L735.9,340.9 L737.5,339.2 L739.0,338.1 L742.2,337.4 L743.8,339.2 L745.3,341.1 L746.9,342.5 L750.0,343.5 L753.0,343.8 L754.7,341.6 L755.3,343.8 L755.9,346.3 L756.4,348.5 L757.0,350.4 L758.1,352.5 L759.2,354.9 L760.3,356.9 L761.4,359.5 L762.5,361.9 L764.1,362.9 L765.6,364.8 L767.2,366.5 L768.8,367.5 L770.6,369.3 L772.5,370.6 L774.4,371.4 L776.2,372.7 L778.1,374.3 L782.0,375.3 L784.0,376.6 L786.0,378.5 L788.0,379.8 L790.0,380.9 L791.6,382.4 L793.1,384.1 L794.7,385.7 L796.2,387.8 L797.8,389.3 L799.8,390.8 L801.7,392.3 L803.6,393.8 L805.6,394.6 L808.1,395.8 L810.6,397.0 L813.0,397.8 L815.5,398.0 L818.0,398.9 L820.1,397.5 L822.3,395.8 L824.4,394.3 L827.0,394.2 L829.6,394.7 L832.2,395.0 L834.5,396.6 L836.9,398.7 L839.5,400.1 L842.1,400.6 L844.7,401.4 L847.4,401.2 L850.2,401.4 L852.9,401.5 L855.6,401.6 L857.6,399.8 L859.6,399.3 L861.5,397.9 L863.5,397.2 L865.5,395.8 L867.4,394.4 L869.4,393.0 L871.3,391.1 L873.3,389.2 L875.2,387.7 L876.6,385.7 L878.0,384.2 L879.4,381.7 L880.8,379.8 L882.2,378.1 L883.6,375.5 L885.0,373.7 L886.3,371.8 L887.7,369.2 L889.1,366.8 L890.3,364.9 L891.4,362.8 L892.6,360.4 L893.8,358.3 L894.9,356.2 L896.1,354.2 L897.0,352.0 L897.9,349.6 L898.9,347.2 L899.8,344.8 L900.7,342.9 L901.6,340.8 L902.3,338.5 L903.0,336.4 L903.8,334.3 L904.5,331.8 L905.2,330.2 L905.8,327.6 L906.3,325.4 L906.9,323.1 L907.4,320.6 L908.0,318.2 L908.5,315.8 L908.9,313.5 L909.4,311.4 L909.8,309.0 L910.2,306.9 L910.6,304.2 L911.1,302.2 L911.5,300.3 L911.9,297.5 L912.4,295.5 L912.8,293.1 L913.2,290.7 L913.6,289.0 L914.1,286.1 L914.5,284.2 L915.1,281.2 L915.6,278.5 L916.2,276.7 L916.7,273.7 L917.3,270.9 L917.9,268.9 L918.4,266.7 L919.0,264.7 L919.6,262.0 L920.1,259.8 L920.7,258.2 L921.2,255.8 L921.8,252.7 L922.3,250.2 L922.9,247.5 L923.4,245.1 L924.5,242.8 L925.5,240.8 L926.5,238.5 L927.6,236.0 L931.2,235.2 L934.9,233.1 L936.5,236.2 L937.5,233.9 L938.5,232.1 L939.6,230.0 L940.6,228.0 L941.7,225.3 L943.1,223.5 L944.4,220.3 L945.8,218.5 L949.5,216.9 L952.1,214.2 L954.2,212.5 L955.1,214.6 L955.9,216.9 L956.8,219.6 L957.4,222.1 L958.1,224.2 L958.8,226.3 L959.4,228.7 L959.9,231.1 L960.5,233.6 L961.0,235.6 L961.5,238.0 L961.8,240.4 L962.2,242.6 L962.5,244.9 L962.7,247.4 L962.9,249.7 L963.2,251.6 L963.4,253.8 L963.6,255.7 L963.8,258.0 L964.0,260.1 L964.3,262.7 L964.5,264.9 L964.7,266.7 L964.9,269.6 L965.1,271.3 L965.4,273.9 L965.6,276.1 L965.8,278.0" fill="none" stroke="#a9e2ef" stroke-width="2.6" stroke-linejoin="round" stroke-linecap="round"/>
<path d="M86.0,434.0 L88.2,434.2 L90.5,433.8 L92.8,433.9 L95.0,434.2 L98.1,433.0 L101.2,432.5 L103.5,432.4 L105.9,431.7 L108.6,430.7 L111.4,429.2 L113.2,427.2 L115.0,425.8 L116.8,423.5 L118.4,421.2 L120.0,419.0 L121.5,416.4 L123.1,414.0 L124.6,411.9 L126.2,409.3 L127.8,408.0 L129.3,405.9 L130.9,404.0 L132.5,402.1 L134.0,400.8 L135.6,399.2 L137.6,397.4 L139.5,395.5 L141.4,394.2 L143.3,392.7 L145.2,390.7 L147.6,389.6 L150.1,388.7 L152.5,387.9 L155.2,387.4 L157.8,387.5 L159.8,388.9 L161.7,389.6 L163.7,390.9 L165.6,392.6 L167.2,394.0 L168.7,395.3 L170.3,396.6 L171.8,398.8 L173.4,400.2 L175.4,401.4 L177.3,402.8 L179.3,403.9 L181.2,404.6 L183.8,404.9 L186.4,405.6 L189.0,406.3 L191.6,405.5 L194.3,404.4 L196.9,403.6 L199.5,403.2 L202.1,402.5 L204.7,401.5 L207.0,401.2 L209.3,400.1 L211.7,398.8 L214.0,398.3 L216.1,399.4 L218.2,399.8 L220.3,401.0 L222.7,400.0 L225.0,399.8 L227.3,402.3 L229.7,404.1 L231.6,402.0 L233.6,399.4 L235.1,397.7 L236.7,395.8 L237.4,393.3 L238.1,391.2 L238.8,388.8 L239.5,386.8 L241.6,385.3 L243.8,383.9 L244.7,381.6 L245.6,379.6 L246.5,378.0 L249.2,379.5 L252.0,379.9 L253.3,382.6 L254.7,385.6 L256.3,388.0 L257.8,389.9 L259.4,392.2 L260.2,393.6 L260.9,395.6 L261.7,398.3 L263.6,399.2 L265.6,400.7 L267.6,404.3 L268.4,406.2 L269.1,408.3 L269.9,410.3 L271.6,412.5 L273.4,413.8 L273.5,412.4 L275.9,414.0 L278.4,415.4 L280.8,416.6 L283.2,418.1 L285.7,418.6 L288.1,419.7 L290.6,420.0 L293.0,420.9 L295.4,420.8 L297.8,420.8 L300.1,421.7 L302.5,421.8 L304.8,421.2 L307.2,421.6 L309.5,421.4 L311.9,420.8 L314.2,421.0 L316.6,421.1 L318.9,420.6 L321.2,420.9 L323.3,419.2 L325.4,418.2 L327.5,417.3 L329.6,415.8 L331.7,414.7 L333.9,414.5 L336.2,413.5 L338.4,413.1 L340.6,412.0 L342.8,411.3 L345.1,410.8 L347.3,409.9 L349.9,410.9 L352.5,410.5 L355.1,411.0 L357.7,410.9 L360.1,410.2 L362.6,409.1 L365.0,408.0 L367.1,406.8 L369.1,406.0 L371.2,405.7 L373.3,404.4 L376.1,403.9 L378.9,403.5 L381.7,403.2 L384.5,403.7 L387.2,404.1 L390.0,405.1 L392.7,405.1 L395.4,405.2 L398.0,405.8 L400.6,405.4 L403.2,405.7 L405.8,406.3 L408.1,405.1 L410.3,404.8 L412.6,404.5 L414.9,403.9 L417.1,402.7 L419.4,402.3 L421.9,403.1 L424.4,403.3 L426.9,404.3 L429.4,404.2 L431.9,405.4 L434.2,405.1 L436.5,405.0 L438.7,405.3 L441.0,405.1 L443.3,405.7 L445.7,405.6 L448.2,406.5 L450.6,406.6 L453.0,406.8 L455.5,407.0 L457.9,407.7 L460.5,407.6 L463.1,408.4 L465.7,408.0 L468.3,408.6 L470.6,409.1 L473.0,409.2 L475.3,410.1 L477.7,410.2 L480.0,410.8 L482.3,411.0 L484.7,411.0 L487.0,411.3 L489.3,412.5 L491.6,413.9 L493.9,415.9 L496.2,414.5 L498.5,413.9 L500.9,412.5 L503.2,411.9 L505.5,410.8 L507.8,410.0 L510.0,409.0 L512.2,408.0 L514.5,407.3 L516.7,406.4 L518.9,405.5 L519.4,406.2 L520.2,403.1 L520.9,400.5 L521.7,398.2 L522.2,395.3 L522.8,392.5 L523.3,389.6 L524.5,386.3 L525.6,383.7 L528.8,381.1 L531.9,381.3 L535.0,383.2 L535.8,385.3 L536.5,387.7 L537.3,390.2 L537.9,392.6 L538.5,394.6 L539.1,397.4 L539.7,399.4 L540.5,401.7 L541.2,403.4 L542.0,405.4 L544.4,405.7 L546.7,405.2 L549.0,403.6 L551.4,401.4 L552.8,399.7 L554.1,398.0 L555.5,396.3 L556.9,394.6 L558.9,393.1 L561.0,391.3 L563.0,390.0 L565.0,388.7 L567.6,386.5 L570.3,385.3 L572.2,383.8 L574.0,382.7 L575.9,381.1 L577.8,380.1 L579.6,379.1 L581.5,377.6 L582.6,375.4 L583.8,374.2 L584.9,372.2 L586.1,369.9 L587.2,367.8 L588.3,366.5 L589.5,364.4 L590.6,362.0 L591.8,360.3 L592.9,358.3 L594.0,356.7 L595.0,354.1 L596.1,352.6 L597.2,350.3 L598.2,347.6 L599.3,346.0 L600.4,343.7 L601.4,341.8 L602.5,339.8 L603.2,336.9 L604.0,334.3 L604.8,332.6 L605.5,329.8 L606.2,327.8 L607.0,325.2 L607.6,323.1 L608.2,321.1 L608.9,318.8 L609.5,316.5 L610.1,314.1 L610.7,312.5 L611.4,310.2 L612.0,308.1 L612.6,306.4 L613.1,303.5 L613.6,301.8 L614.1,299.0 L614.6,297.3 L615.0,295.1 L615.5,292.5 L616.0,290.5 L616.5,288.6 L617.0,286.1 L617.5,283.8 L617.9,281.3 L618.4,279.0 L618.9,277.0 L619.4,274.8 L619.8,272.4 L620.3,270.3 L620.8,267.9 L621.2,266.2 L621.6,263.8 L622.0,261.2 L622.3,258.9 L622.7,256.8 L623.0,254.4 L623.4,252.5 L623.7,249.7 L624.1,247.4 L624.4,245.5 L624.8,242.6 L625.2,240.8 L625.6,238.4 L626.0,236.6 L626.5,234.2 L626.9,232.2 L627.3,229.5 L627.7,227.7 L628.1,225.5 L628.5,223.2 L628.9,221.3 L629.4,219.1 L629.8,216.3 L630.2,214.3 L630.6,212.2 L630.9,209.6 L631.1,207.1 L631.4,204.8 L632.2,202.5 L633.0,200.7 L633.8,198.3 L636.9,196.0 L637.6,198.3 L638.4,200.6 L639.3,197.9 L640.3,195.1 L641.2,192.4 L642.2,194.7 L643.1,197.9 L645.5,199.7 L647.8,201.1 L651.0,202.8 L653.3,202.6 L655.2,206.1 L656.0,208.0 L656.7,210.6 L657.5,213.2 L658.3,215.7 L660.6,218.4 L660.9,220.6 L661.1,224.0 L661.4,226.4 L661.6,228.6 L661.8,231.2 L662.0,233.3 L662.2,235.2 L662.4,237.5 L662.6,239.7 L663.0,240.6 L664.0,243.8 L664.9,246.4 L665.9,248.4 L669.7,249.2 L670.7,247.5 L671.6,245.5 L672.5,243.5 L673.5,240.7 L674.1,239.0 L674.8,236.8 L675.5,234.5 L676.1,231.9 L676.8,229.6 L677.4,227.9 L678.5,229.8 L679.7,232.2 L680.9,234.7 L682.0,236.9 L682.9,239.5 L683.7,241.3 L684.6,243.4 L685.1,246.1 L685.6,248.4 L686.0,250.8 L686.5,252.9 L687.0,255.3 L687.5,257.6 L687.9,259.5 L688.4,261.7 L688.9,263.7 L689.4,266.1 L689.8,268.6 L690.3,270.4 L690.8,273.2 L691.4,275.0 L692.0,277.5 L692.7,280.2 L693.3,281.8 L693.9,284.0 L694.5,286.6 L695.1,288.7 L695.8,291.4 L696.4,293.1 L697.0,296.1 L697.8,298.2 L698.6,300.2 L699.4,302.0 L700.1,304.0 L700.9,306.4 L701.7,308.3 L702.5,310.3 L703.3,312.4 L704.6,314.2 L706.0,316.2 L707.3,318.1 L708.6,319.9 L710.0,321.1 L711.3,323.0 L712.7,324.9 L714.0,326.8 L714.8,328.8 L715.7,330.9 L716.5,333.0 L717.3,335.4 L718.2,337.8 L719.0,340.4 L719.6,342.8 L720.3,345.1 L720.9,347.6 L721.5,350.0 L722.1,352.2 L722.8,354.7 L723.4,356.5 L725.0,355.3 L726.5,353.6 L728.1,351.6 L729.7,350.1 L731.2,348.7 L733.2,347.1 L735.1,346.1 L737.1,344.6 L739.0,343.5 L742.2,343.1 L743.8,344.8 L745.3,347.2 L747.6,348.4 L750.0,349.0 L752.4,347.9 L754.7,347.6 L755.7,349.5 L756.8,351.7 L757.8,353.7 L758.7,356.0 L759.7,358.2 L760.6,360.2 L761.6,362.2 L762.5,364.4 L764.1,366.8 L765.6,368.2 L767.2,369.6 L768.8,372.0 L770.7,372.9 L772.7,374.1 L774.6,375.9 L776.6,377.0 L779.2,377.7 L781.8,378.3 L784.4,378.5 L786.7,380.2 L789.1,381.1 L791.4,382.8 L793.8,384.3 L795.8,385.1 L797.9,386.7 L800.0,387.7 L801.4,390.0 L802.8,392.4 L804.2,394.1 L805.6,396.2 L808.1,397.0 L810.6,397.3 L813.0,398.8 L815.5,399.4 L818.0,399.7 L820.1,398.7 L822.3,396.8 L824.4,395.0 L827.0,395.9 L829.6,395.8 L832.2,396.2 L834.5,397.7 L836.9,400.2 L839.5,400.2 L842.1,400.8 L844.7,401.5 L847.0,401.0 L849.3,401.3 L851.6,400.8 L853.9,400.6 L856.1,399.9 L858.3,398.5 L860.6,397.8 L862.8,396.5 L865.0,395.6 L866.9,393.7 L868.9,392.3 L870.8,390.6 L872.8,388.3 L874.7,387.1 L876.1,384.8 L877.5,383.2 L878.9,381.2 L880.3,379.4 L881.7,376.9 L883.1,374.9 L884.5,373.0 L885.8,370.9 L887.2,368.5 L888.6,365.7 L889.8,364.1 L890.9,361.6 L892.1,359.9 L893.3,358.0 L894.4,355.4 L895.6,354.0 L896.5,351.4 L897.4,348.8 L898.4,346.4 L899.3,344.3 L900.2,342.3 L901.1,339.8 L902.0,337.0 L902.9,334.4 L903.7,332.1 L904.6,330.3 L905.6,329.7 L906.2,327.8 L906.7,325.4 L907.3,323.5 L907.9,321.0 L908.5,318.6 L909.0,317.0 L909.6,314.5 L910.2,312.4 L910.8,310.3 L911.3,308.2 L911.9,305.2 L912.4,303.1 L912.8,300.6 L913.3,298.6 L913.8,296.6 L914.2,294.2 L914.7,291.2 L915.2,289.0 L915.7,287.1 L916.1,284.7 L916.6,282.1 L917.1,279.8 L917.6,277.2 L918.2,275.4 L918.7,272.7 L919.2,270.8 L919.7,268.2 L921.0,265.1 L922.3,262.8 L923.6,260.1 L925.2,257.9 L926.7,254.9 L928.3,252.6 L929.8,250.9 L931.4,249.3 L932.3,247.2 L933.3,245.1 L935.9,243.3 L938.5,241.7 L939.9,239.7 L941.3,238.4 L942.7,236.5 L944.8,234.6 L946.9,233.4 L950.0,233.3 L952.1,231.0 L954.2,229.5 L956.8,231.5 L957.3,233.4 L957.8,235.7 L958.3,238.1 L958.8,240.2 L959.4,242.8 L959.9,245.0 L960.1,247.7 L960.2,250.0 L960.4,251.5 L960.6,254.2 L960.7,256.7 L960.9,259.0 L961.1,261.2 L961.2,263.4 L961.5,265.7 L961.7,267.7 L962.0,269.9 L962.2,272.5 L962.5,274.8 L962.7,277.1 L962.9,279.2 L963.2,281.1 L963.4,283.7 L963.7,286.0 L963.9,288.0 L964.2,290.4 L964.4,292.5" fill="none" stroke="#3f92ac" stroke-width="2.6" stroke-linejoin="round" stroke-linecap="round"/>
<path d="M86.0,434.0 L88.2,433.9 L90.5,434.0 L92.8,433.9 L95.0,433.6 L97.2,432.9 L99.5,431.9 L101.8,431.8 L104.2,430.8 L107.0,429.3 L109.7,427.9 L111.5,426.0 L113.3,424.3 L115.2,422.3 L116.7,419.8 L118.3,418.2 L119.9,415.5 L121.4,413.2 L123.0,410.9 L124.5,408.3 L126.1,406.4 L127.6,404.5 L129.2,402.9 L130.8,401.4 L132.3,400.2 L133.9,398.4 L135.9,396.8 L137.8,394.4 L138.5,395.1 L140.7,393.2 L143.0,391.2 L145.2,389.7 L147.6,388.7 L150.1,387.6 L152.5,385.7 L155.2,386.5 L157.8,386.6 L159.8,388.2 L161.7,388.7 L163.7,390.2 L165.6,391.7 L167.6,393.1 L169.5,395.0 L171.4,396.7 L173.4,398.7 L175.4,400.0 L177.3,401.6 L179.3,402.4 L181.2,403.8 L183.8,404.7 L186.4,406.1 L189.0,407.3 L191.6,406.6 L194.3,405.7 L196.9,405.7 L199.5,405.1 L202.1,404.0 L204.7,402.7 L207.0,403.6 L209.3,403.8 L211.7,403.6 L214.0,403.6 L217.2,404.4 L220.3,405.5 L222.7,405.8 L225.2,405.6 L227.6,405.9 L230.0,405.3 L232.0,404.4 L235.2,403.0 L236.5,401.2 L237.9,399.2 L239.2,397.7 L240.6,395.7 L242.2,393.9 L243.8,392.6 L245.3,390.7 L246.9,389.6 L248.4,391.0 L250.0,392.7 L251.6,394.6 L253.1,396.1 L254.7,398.1 L256.3,399.3 L257.8,401.6 L259.4,402.9 L261.7,404.8 L264.0,405.6 L265.6,408.2 L267.2,410.3 L268.8,412.1 L268.9,411.9 L270.9,413.5 L272.8,415.0 L275.1,417.1 L277.5,418.1 L280.2,417.5 L283.0,415.9 L285.7,417.2 L288.4,418.5 L291.5,419.2 L294.7,420.1 L297.0,420.6 L299.4,420.9 L301.7,421.8 L304.1,421.3 L306.4,421.5 L308.8,421.4 L311.1,421.6 L313.4,421.3 L315.8,421.8 L318.7,422.0 L321.5,421.6 L324.4,421.4 L327.5,419.2 L331.4,418.1 L331.7,416.2 L333.9,415.5 L336.2,415.3 L338.4,414.8 L340.6,414.3 L342.8,413.4 L345.1,413.3 L347.3,412.1 L349.9,412.9 L352.5,412.8 L355.1,413.1 L357.7,413.6 L360.1,413.0 L362.6,412.8 L365.0,412.3 L367.1,411.3 L369.1,411.1 L371.2,409.9 L373.3,408.9 L376.1,408.6 L378.9,408.7 L381.7,408.5 L384.5,407.6 L387.2,407.4 L390.0,407.8 L392.3,407.8 L394.5,408.7 L396.8,408.7 L399.0,409.2 L401.3,409.3 L403.5,410.1 L405.8,410.2 L408.1,409.9 L410.3,410.2 L412.6,409.4 L414.9,409.7 L417.1,409.0 L419.4,409.3 L421.9,408.8 L424.4,408.9 L426.9,407.9 L429.4,408.0 L431.9,407.5 L434.2,408.3 L436.5,408.6 L438.7,408.7 L441.0,408.6 L443.3,409.0 L445.7,409.5 L448.2,410.2 L450.6,410.5 L453.0,411.0 L455.5,412.0 L457.9,412.4 L460.5,412.4 L463.1,413.2 L465.7,412.8 L468.3,413.4 L470.6,413.3 L473.0,414.2 L475.3,414.6 L477.7,414.4 L480.0,415.1 L482.2,415.6 L484.4,415.6 L486.6,416.0 L488.8,416.6 L491.0,417.3 L493.1,416.0 L495.2,415.8 L497.3,415.0 L499.4,414.2 L501.5,413.6 L503.6,413.1 L505.7,411.9 L507.8,411.7 L510.0,410.4 L512.2,410.0 L514.5,409.2 L516.7,407.8 L518.9,407.5 L520.2,407.4 L521.0,404.3 L521.7,401.6 L522.5,399.2 L523.3,397.6 L524.0,394.4 L524.8,392.8 L527.2,389.8 L530.3,389.9 L533.4,387.9 L535.4,389.8 L536.3,393.4 L537.3,396.1 L538.1,398.9 L538.9,402.0 L539.7,404.4 L541.2,407.3 L543.6,407.6 L546.0,406.9 L547.9,405.9 L549.9,405.2 L551.8,403.9 L553.8,402.2 L555.6,401.0 L557.4,399.2 L559.2,397.8 L561.1,396.0 L563.1,394.4 L565.0,393.7 L566.8,391.3 L568.5,389.9 L570.3,387.5 L572.2,386.5 L574.2,384.9 L576.1,383.8 L578.1,382.3 L580.0,381.5 L582.0,379.7 L583.1,378.3 L584.3,376.2 L585.5,374.0 L586.6,372.3 L587.8,370.5 L588.9,369.0 L590.0,366.6 L591.2,364.6 L592.4,363.3 L593.5,361.3 L594.5,359.1 L595.4,356.6 L596.4,354.4 L597.3,352.4 L598.2,350.1 L599.2,348.0 L600.1,346.3 L601.1,344.1 L602.0,342.1 L603.0,339.9 L603.8,337.5 L604.6,335.9 L605.4,333.8 L606.2,331.5 L607.1,329.4 L607.9,327.4 L608.7,325.5 L609.5,323.3 L610.3,321.1 L611.1,318.7 L611.9,316.5 L612.8,314.4 L613.6,312.8 L614.4,310.2 L615.2,308.0 L616.0,305.9 L616.4,303.5 L616.9,302.0 L617.3,298.9 L617.8,297.2 L618.2,295.2 L618.7,292.5 L619.1,290.5 L619.6,288.1 L620.0,285.8 L620.4,283.5 L620.9,281.2 L621.3,279.6 L621.7,277.3 L622.2,275.2 L622.6,272.3 L623.0,270.6 L623.5,268.1 L623.9,266.1 L624.0,263.7 L624.2,261.1 L624.3,259.3 L624.5,256.1 L624.6,254.4 L624.8,252.1 L624.9,249.5 L625.1,247.2 L625.2,245.1 L625.4,242.1 L625.5,240.1 L626.0,237.9 L626.5,235.3 L627.0,233.3 L627.6,230.7 L628.1,228.6 L628.6,226.3 L629.4,224.1 L630.2,221.4 L630.9,219.3 L631.7,216.9 L632.7,214.7 L633.8,213.1 L634.8,210.8 L637.2,210.1 L638.8,212.6 L639.9,210.8 L641.1,208.7 L641.6,210.9 L642.2,212.9 L642.7,215.0 L646.6,217.3 L649.7,220.0 L651.2,222.0 L653.2,223.2 L655.2,224.6 L656.8,226.2 L658.3,228.3 L659.0,231.6 L659.8,234.0 L660.2,237.1 L660.6,240.3 L660.7,242.6 L660.9,244.8 L661.0,246.3 L661.8,249.1 L662.6,251.9 L663.4,254.3 L664.2,256.2 L665.0,258.7 L668.8,257.8 L671.1,255.8 L673.5,254.2 L674.6,252.2 L675.6,249.6 L676.7,247.1 L677.8,244.5 L679.2,246.8 L680.6,249.4 L682.0,251.2 L682.5,253.1 L683.0,255.3 L683.4,257.8 L683.9,259.9 L684.4,261.5 L684.9,264.2 L685.3,266.1 L685.8,268.4 L686.3,270.3 L686.8,272.6 L687.2,274.7 L687.7,276.9 L688.5,279.0 L689.2,281.5 L690.0,284.2 L690.7,286.2 L691.5,288.7 L692.2,291.5 L693.0,293.6 L693.8,295.7 L694.5,297.7 L695.3,300.3 L696.1,301.7 L696.9,304.3 L697.7,306.5 L698.4,308.1 L699.2,310.3 L700.0,312.7 L700.9,314.6 L701.7,316.5 L702.5,318.3 L703.4,320.7 L704.2,322.7 L705.0,325.0 L705.9,326.8 L706.7,328.9 L707.9,331.0 L709.1,332.9 L710.3,334.4 L711.5,336.3 L712.8,338.3 L714.0,340.4 L715.2,341.6 L716.4,344.1 L717.3,346.1 L718.1,348.1 L719.0,350.6 L719.9,352.5 L720.8,354.5 L721.6,357.3 L722.5,359.3 L723.4,361.6 L725.4,360.0 L727.3,358.8 L729.3,357.1 L731.2,354.9 L733.2,354.0 L735.1,352.5 L737.1,351.1 L739.0,350.1 L741.0,351.3 L743.0,353.0 L745.0,355.3 L746.9,356.8 L749.5,357.9 L752.1,359.0 L754.7,360.3 L756.3,361.7 L757.8,363.3 L759.4,364.6 L761.0,366.3 L762.5,368.8 L764.0,370.6 L765.6,372.7 L767.2,374.3 L768.8,375.3 L770.3,377.0 L771.9,378.4 L774.2,379.8 L776.6,380.0 L778.9,380.8 L781.2,382.1 L783.1,383.2 L785.0,384.0 L786.9,385.8 L788.7,387.0 L790.6,388.1 L793.0,388.9 L795.3,390.6 L797.6,391.6 L800.0,392.9 L801.4,395.0 L802.8,396.7 L804.2,398.5 L805.6,399.7 L808.1,400.6 L810.6,401.6 L813.0,401.9 L815.5,403.5 L818.0,403.7 L820.7,402.9 L823.3,402.2 L826.0,401.4 L828.2,402.5 L830.4,402.9 L832.5,403.5 L834.7,404.0 L836.9,404.3 L839.1,404.8 L841.3,405.6 L843.4,405.9 L845.6,406.2 L847.8,406.0 L849.7,406.1 L852.5,405.1 L855.2,404.6 L858.0,403.5 L860.1,402.2 L862.2,400.8 L864.3,399.5 L866.4,398.0 L868.5,396.9 L870.6,395.0 L872.5,394.0 L874.3,392.1 L876.2,390.1 L878.0,388.7 L879.9,387.2 L881.7,385.5 L883.1,383.7 L884.5,381.5 L885.8,379.5 L887.2,378.0 L888.6,375.6 L890.0,373.8 L891.4,371.6 L892.8,369.2 L894.2,366.9 L895.6,365.1 L896.8,362.6 L897.9,360.9 L899.0,358.1 L900.2,356.3 L901.4,354.4 L902.5,351.8 L903.5,350.1 L904.6,347.0 L905.7,345.0 L906.7,342.2 L907.3,340.4 L907.8,337.6 L908.4,335.3 L908.9,332.5 L909.5,330.1 L910.0,327.9 L910.5,325.3 L911.0,323.0 L911.5,321.2 L911.9,318.4 L912.4,316.8 L912.9,313.9 L913.4,311.6 L914.2,309.2 L915.0,307.5 L915.8,305.3 L916.5,302.5 L917.3,300.3 L918.1,297.6 L918.9,295.8 L920.5,293.7 L922.0,291.3 L923.1,288.9 L924.1,287.0 L925.2,284.1 L927.9,283.0 L930.6,280.7 L933.8,280.1 L936.9,279.9 L939.0,278.1 L941.0,276.8 L943.1,274.9 L944.7,273.4 L946.2,270.9 L947.8,269.2 L950.2,269.1 L952.2,267.5 L954.1,265.4 L957.2,268.0 L957.7,269.9 L958.1,272.4 L958.6,274.8 L959.0,276.6 L959.5,279.0 L959.8,280.9 L960.2,283.5 L960.5,285.9 L960.9,287.9 L961.2,290.4 L961.6,292.1 L961.9,295.0 L962.3,296.7 L962.7,299.7 L963.0,302.1 L963.4,304.4 L963.8,306.4 L964.2,308.6 L964.5,311.5 L964.7,314.7 L965.0,317.3 L965.2,320.0 L965.5,322.0" fill="none" stroke="#adbbfb" stroke-width="2.6" stroke-linejoin="round" stroke-linecap="round"/>
<path d="M87.8,433.7 L88.2,433.7 L90.5,434.0 L92.8,434.2 L95.0,434.1 L97.3,433.8 L99.5,433.2 L101.8,433.0 L102.8,432.8M112.8,428.6 L113.8,427.9 L115.6,425.3 L117.5,424.0 L119.0,421.9 L120.6,419.1 L122.2,417.2 L122.3,417.0M128.5,407.8 L129.9,406.0 L131.5,404.6 L133.1,402.6 L134.6,401.5 L136.2,399.5 L138.1,397.4 L138.9,396.8M148.6,392.5 L150.0,392.3 L152.3,391.0 L154.7,389.4 L157.8,390.2 L160.9,390.3 L162.3,391.3M171.1,397.1 L172.4,397.7 L174.6,398.8 L176.7,399.3 L178.8,400.2 L180.9,401.7 L183.1,402.1 L184.9,403.2M194.9,406.8 L194.9,406.8 L196.7,404.6 L199.4,404.2 L202.2,403.5 L204.6,403.7 L206.9,404.5 L209.0,405.0M227.8,410.5 L229.3,411.2 L230.9,411.4M241.1,408.6 L242.2,408.0 L244.5,407.3 L246.7,406.3 L248.8,407.0 L251.0,407.3 L253.2,408.4 L254.0,408.5M262.4,413.7 L263.7,414.4 L266.2,415.4 L268.6,417.1 L271.1,417.5 L273.5,418.9 L274.8,419.2M285.5,420.9 L287.7,421.4 L290.0,422.1 L292.5,422.7 L295.0,422.1 L297.5,422.8 L300.0,423.2 L300.2,423.2M311.1,424.0 L312.2,424.3 L314.6,423.8 L317.0,424.8 L319.3,424.6 L321.7,424.8 L324.1,424.7 L325.2,424.9M335.4,421.5 L337.0,421.3 L339.3,421.3 L341.5,421.2 L343.7,421.2 L345.9,421.7 L348.2,421.6 L350.2,421.4M360.9,419.1 L362.3,418.7 L364.6,418.1 L366.9,417.2 L369.2,417.1 L371.6,416.8 L374.1,416.2 L375.4,415.6M386.0,416.1 L387.8,416.0 L390.0,416.1 L392.5,415.9 L395.0,416.7 L397.5,417.1 L400.0,417.3 L400.7,417.3M411.6,417.3 L413.3,417.6 L415.6,417.6 L417.8,417.8 L420.0,417.3 L422.2,417.8 L424.4,417.4 L426.4,417.7M437.0,417.2 L437.8,417.3 L440.0,416.8 L442.2,416.8 L444.4,417.1 L446.7,416.9 L448.9,417.2 L451.1,417.6 L451.8,417.6M462.7,417.9 L464.4,418.0 L466.7,418.4 L468.9,418.4 L471.1,418.3 L473.3,418.2 L475.6,418.8 L477.5,419.1M488.3,420.3 L490.0,420.1 L492.4,420.5 L494.8,420.1 L497.2,420.1 L499.6,420.7 L500.7,420.5M513.3,416.5 L514.3,416.2 L516.7,416.0 L519.0,415.1 L521.0,412.7 L523.0,410.4 L524.1,409.3M532.6,405.7 L533.7,406.3 L536.0,406.7 L537.7,409.3 L539.3,410.9 L541.0,413.8 L543.5,412.5 L544.7,412.1M554.7,406.1 L555.6,405.6 L557.6,404.9 L559.6,403.5 L561.5,402.6 L563.5,402.0 L565.5,400.6 L566.3,400.4M577.9,391.1 L578.1,390.7 L580.0,389.2 L582.0,388.0 L584.0,385.8 L586.0,384.3 L586.4,383.5M591.6,375.5 L592.5,374.3 L593.8,372.0 L595.1,369.9 L596.4,368.4 L597.7,366.3 L598.2,365.5M603.6,357.6 L604.1,357.0 L605.4,354.6 L606.7,353.0 L608.0,351.1 L608.6,348.5 L608.9,347.1M611.1,337.7 L611.4,336.7 L612.1,335.0 L612.7,332.0 L613.3,330.4 L614.0,328.1 L614.6,325.8 L615.3,323.5 L615.9,321.5 L616.5,319.4 L617.2,317.1 L617.4,316.2M619.7,307.7 L620.3,306.2 L620.9,303.9 L621.6,301.1 L622.2,299.2 L622.6,297.7M625.0,289.2 L625.2,288.2 L625.7,285.7 L626.2,283.8 L626.7,281.2 L627.2,279.2 L627.7,276.9 L628.2,275.1 L629.1,272.7 L629.9,270.6 L630.8,268.3 L631.7,265.9 L632.5,264.3 L633.0,263.1M641.4,260.4 L642.6,261.2 L645.0,262.5 L647.3,263.6 L649.9,265.0 L651.4,265.9M660.2,272.3 L660.4,273.7 L660.8,275.4 L661.2,277.8 L661.7,279.8 L662.1,282.3 L662.5,284.6 L662.7,286.0M670.1,295.8 L671.1,296.6 L673.3,298.8 L674.0,298.2M682.6,294.9 L683.0,295.8 L683.9,298.3 L684.9,299.8 L685.8,302.2 L686.7,305.2 L687.6,307.2 L688.1,308.7M692.5,320.3 L693.0,321.6 L694.1,323.4 L695.1,325.5 L696.1,327.7 L697.2,329.8 L697.5,330.3M703.7,342.2 L704.4,343.4 L705.9,345.1 L707.3,347.6 L708.7,349.0 L710.2,351.7 L710.8,352.4M719.2,363.9 L719.7,365.2 L720.6,367.6 L721.5,369.7 L722.5,371.7 L723.2,373.8M735.5,367.2 L736.7,366.4 L739.0,364.9 L740.6,366.2 L742.2,368.2 L743.7,369.6 L745.3,370.8 L746.0,371.5M754.0,374.0 L755.4,375.0 L757.8,377.5 L759.3,379.0 L760.9,380.7 L762.5,382.6 L763.2,383.5M773.9,389.5 L775.0,390.0 L777.4,391.3 L779.7,392.1 L782.0,393.4 L784.4,394.6 L785.6,395.4M795.7,402.1 L796.8,403.0 L798.9,404.3 L801.0,405.3 L803.2,406.8 L805.3,408.1 L807.4,409.2 L808.4,409.8M820.3,411.3 L821.3,411.4 L823.7,411.5 L826.0,411.5 L828.3,411.5 L830.6,412.2 L833.0,412.6 L834.0,412.4M844.3,413.1 L845.5,413.2 L847.9,413.2 L850.4,412.9 L852.9,412.3 L855.4,412.3 L857.8,411.6 L859.0,411.8M869.1,408.8 L870.1,408.1 L872.1,407.3 L874.2,406.1 L876.2,405.5 L878.3,404.6 L880.4,403.8 L882.4,402.2 L883.2,402.1M892.6,395.9 L893.4,395.0 L895.0,393.3 L896.7,391.8 L898.4,389.8 L900.1,388.6 L901.7,386.4 L902.3,386.0M909.0,376.2 L909.4,374.7 L910.2,373.0 L911.0,370.8 L911.8,368.4 L912.6,366.7 L913.4,364.7 L914.2,362.5 L914.6,361.4M921.6,352.2 L922.4,351.8 L924.5,350.5 L926.5,349.5 L928.6,347.9 L930.6,347.3 L932.7,345.5 L933.5,345.1M942.2,337.5 L943.1,336.8 L944.9,335.4 L946.8,334.0 L948.6,332.9 L950.5,331.4 L952.3,330.1 L953.0,329.7M959.7,335.3 L960.0,336.9 L960.5,338.9 L961.1,341.3 L961.6,344.0 L962.2,346.5 L962.7,349.2 L963.3,351.4 L963.6,353.8 L964.0,356.0 L964.3,358.0 L964.4,358.7" fill="none" stroke="#0b2233" stroke-width="2.6" stroke-linejoin="round" stroke-linecap="round"/>
<path d="M87.3,434.1 L88.2,434.2 L90.5,433.6 L92.8,433.8 L95.0,433.6 L97.7,433.6 L100.4,432.7M109.9,428.7 L110.6,428.3 L112.4,426.9 L114.2,425.3 L116.0,422.9 L117.6,420.4 L118.8,418.7M124.7,410.2 L125.4,409.0 L127.0,406.9 L128.5,405.1 L130.1,403.3 L131.7,402.3 L133.2,400.4 L134.8,399.3 L136.8,397.3 L138.5,395.4M147.0,388.3 L147.6,387.8 L150.0,385.5 L152.1,384.3 L154.2,383.3 L156.2,382.1 L158.2,382.5M168.5,388.1 L169.4,388.2 L171.5,389.3 L173.7,389.7 L175.8,390.9 L178.0,391.7 L179.6,393.0 L180.4,393.9M190.0,398.8 L191.0,399.7 L193.0,402.6 L194.9,400.6 L196.9,398.4 L199.9,399.2 L201.9,400.4M211.0,405.5 L212.0,406.6 L213.8,408.7 L215.6,410.2 L217.9,410.7 L220.3,410.7 L222.7,411.1 L223.8,411.6M234.7,413.9 L236.1,413.6 L238.9,413.6 L241.6,413.8 L244.3,413.9 L247.4,412.7 L249.2,411.9M259.9,414.2 L261.3,415.4 L263.8,416.9 L266.2,418.7 L268.6,419.6 L271.1,420.0 L272.3,420.6M283.2,421.1 L284.3,421.5 L286.5,421.5 L288.8,421.2 L291.0,421.5 L293.3,422.3 L295.5,421.9 L297.0,422.1M308.0,423.0 L310.0,422.6 L312.4,422.8 L314.8,423.6 L317.2,423.6 L319.6,423.1 L322.0,423.2 L323.1,423.4M334.0,422.4 L335.2,422.5 L337.6,422.2 L340.1,422.3 L342.5,421.7 L345.0,421.5 L347.5,421.4 L348.7,421.7M359.0,421.5 L360.1,421.2 L362.5,421.5 L364.9,420.7 L367.2,420.8 L369.6,420.2 L372.0,420.6 L373.1,420.5M384.5,418.9 L385.5,418.8 L387.7,418.0 L390.0,417.6 L390.7,417.7M400.8,418.8 L402.2,419.1 L404.4,419.0 L406.7,419.2 L408.9,419.0 L411.1,419.8 L413.3,419.3 L414.0,419.5M424.0,419.8 L424.4,419.9 L426.7,419.4 L428.9,419.5 L431.1,419.1 L433.3,419.7 L435.6,419.3 L437.2,419.1M447.3,419.5 L448.9,419.1 L451.1,419.4 L453.3,419.5 L455.6,420.0 L457.8,419.6 L460.0,420.1 L460.5,420.2M470.6,420.2 L471.1,420.2 L473.3,420.8 L475.6,420.9 L477.8,420.9 L480.0,421.0 L482.3,421.2 L483.9,421.5M494.0,422.7 L496.5,422.5 L499.0,422.1 L501.5,421.7 L504.0,420.8 L506.5,421.0 L507.2,420.9M516.9,418.1 L519.2,418.1 L521.7,417.0 L523.1,415.2 L524.6,412.8 L526.0,410.8 L526.6,410.2M535.5,406.0 L535.6,406.0 L537.4,408.4 L539.2,410.1 L541.0,412.4 L543.5,413.0 L545.7,413.7M554.7,409.1 L555.6,408.6 L557.6,407.6 L559.6,406.0 L561.5,405.0 L563.5,404.4 L565.5,403.2 L566.5,402.4M573.7,395.2 L574.8,394.3 L576.5,392.7 L578.2,391.0 L580.0,390.3 L582.0,388.2 L583.9,386.8M589.9,378.7 L591.2,377.0 L592.5,375.1 L593.8,373.0 L595.1,371.4 L596.4,368.9 L597.4,367.7M602.9,359.2 L604.1,357.4 L605.4,356.1 L606.7,353.4 L608.0,351.8 L609.0,349.8 L609.9,347.9M613.8,338.6 L614.0,338.2 L614.6,336.0 L615.2,333.8 L615.8,331.2 L616.4,329.0 L617.0,326.6 L617.3,325.7M620.1,315.9 L620.6,314.0 L621.2,311.9 L621.8,309.7 L622.4,307.7 L622.9,305.2 L623.5,303.0M626.1,293.2 L626.3,292.2 L626.9,290.4 L627.4,288.7 L628.0,286.3 L628.5,283.8 L629.3,281.8 L629.7,280.4M633.4,271.0 L634.0,270.5 L635.4,268.6 L636.0,268.0M644.8,271.9 L645.8,272.7 L647.9,273.2 L649.9,275.0 L651.6,276.5 L653.3,279.1 L654.2,280.1M660.7,285.4 L660.9,286.3 L661.6,288.8 L662.2,291.8 L662.9,293.5 L665.2,295.4 L667.6,296.8 L668.8,297.6M677.1,290.4 L678.1,291.0 L680.0,292.7 L681.9,294.1 L682.7,294.6M686.7,309.4 L686.9,310.2 L687.5,313.1 L688.0,315.3 L688.5,318.4 L689.1,320.2 L689.7,322.6 L690.2,324.9 L690.8,326.8 L691.4,329.2 L691.7,330.6M695.2,337.5 L695.8,338.8 L697.0,340.6 L698.2,342.7 L699.4,345.0 L700.0,346.1M706.8,354.8 L707.8,355.1 L710.2,354.7 L712.5,355.4 L713.8,357.5 L715.0,358.8 L716.2,360.5 L717.5,362.8 L718.0,363.4M724.5,374.9 L725.6,374.1 L727.8,372.9 L730.0,371.8 L732.2,370.3 L733.3,369.7M746.4,371.3 L747.4,371.8 L749.5,373.2 L750.4,373.6M759.5,384.0 L759.9,384.5 L761.2,386.1 L762.5,387.8 L764.2,389.8 L766.0,390.6 L767.8,391.9 L768.5,392.5M780.1,396.3 L781.7,397.1 L784.4,398.1 L786.5,399.6 L788.7,401.5 L790.9,402.8 L791.9,403.4M802.8,408.9 L803.9,409.6 L806.2,410.4 L808.4,410.9 L810.6,412.1 L812.8,413.2 L815.1,413.9 L816.0,414.2M827.3,415.7 L828.2,415.6 L830.5,416.5 L832.7,417.0 L834.9,417.2 L837.1,417.6 L839.4,417.5 L840.4,417.9M856.9,417.6 L857.8,417.5 L860.0,417.6 L862.2,417.2 L864.4,417.1 L865.3,417.2M877.1,414.3 L878.3,413.7 L880.7,413.8 L883.0,412.5 L885.3,412.0 L887.7,411.3 L890.0,411.0 L890.7,410.4M900.5,404.1 L901.7,403.2 L903.8,402.8 L906.0,401.3 L908.2,400.0 L910.3,399.5 L911.5,398.6M920.1,389.3 L920.9,388.9 L922.7,387.4 L924.6,386.6 L926.4,384.6 L928.3,383.7 L930.1,382.1 L930.9,381.7M941.1,375.1 L942.0,374.5 L944.1,374.1 L946.1,372.3 L948.1,371.1 L950.1,370.3 L952.2,369.2 L953.0,368.8M961.2,371.6 L961.7,373.0 L962.7,375.2 L963.6,377.4 L964.1,378.6" fill="none" stroke="#18a8ec" stroke-width="2.6" stroke-linejoin="round" stroke-linecap="round"/>
<path d="M87.4,432.1 L88.1,432.2 L91.2,434.0 L91.7,434.0M99.3,433.2 L100.8,432.9 L103.2,431.8 L105.5,430.9 L106.7,430.6M112.9,426.3 L114.6,424.8 L116.5,422.9 L118.0,421.1 L119.6,418.7 L121.2,416.0 L122.2,414.4M127.9,407.0 L128.1,406.8 L130.3,404.3 L131.9,401.9 L133.4,399.9 L135.0,398.1 L136.1,396.1M141.0,387.2 L141.9,384.5 L143.0,382.1 L144.0,380.6 L145.1,378.0 L146.1,375.4 L147.2,373.6 L148.2,371.1M152.5,363.0 L153.8,361.0 L155.2,359.7 L156.7,357.7 L158.1,355.7 L159.6,353.9 L161.0,352.2 L161.7,351.1M166.4,339.4 L167.2,338.7 L168.8,340.2 L170.7,338.1 L172.7,335.7 L174.5,337.7 L176.3,340.0 L176.8,340.3M184.3,348.5 L186.0,349.0 L187.5,348.6 L189.1,349.9 L190.6,351.7 L192.2,353.3 L193.8,354.4 L193.9,354.2M202.1,352.7 L202.3,352.7 L203.6,354.6 L204.9,356.7 L206.2,358.5 L208.6,356.6 L209.4,360.2 L209.9,362.4M216.1,372.4 L217.4,374.2 L218.8,376.6 L220.1,378.1 L221.5,380.6 L222.8,382.2 L223.0,382.5M229.9,393.3 L230.6,394.1 L232.4,395.9 L234.1,397.8 L235.8,398.9 L236.5,398.5M245.6,389.8 L247.4,388.5 L249.6,390.4 L251.8,392.1 L254.0,393.7 L256.0,395.6 L258.0,398.0 L259.2,399.4M268.3,408.0 L269.7,409.2 L272.8,407.1 L274.0,409.2 L275.2,411.2 L278.3,410.0 L280.1,409.6M288.6,413.4 L290.0,413.4 L291.6,414.3 L293.1,416.0 L294.7,417.7 L296.2,419.0 L298.6,417.9 L300.6,419.3M307.3,418.5 L309.5,418.3 L311.9,418.1 L315.8,416.6 L317.3,415.4 L319.7,416.1 L320.7,416.3M333.9,415.9 L334.8,415.4 L336.9,415.2 L339.0,414.1 L341.0,412.8 L343.1,412.1 L345.2,411.7 L346.1,411.2M355.8,416.6 L357.0,417.0 L359.5,418.8 L361.9,419.8 L364.0,419.4 L366.0,418.6 L366.9,418.3M377.7,413.8 L379.6,414.6 L382.2,414.4 L384.8,414.5 L387.4,413.8 L390.0,414.0M401.9,414.7 L402.7,414.7 L404.8,416.1 L406.9,416.4 L408.9,417.2 L411.0,418.2 L413.1,419.0 L414.0,419.3M424.8,418.0 L425.8,417.7 L428.1,416.5 L430.4,415.5 L432.7,414.6 L435.0,414.1 L437.8,414.9M448.8,417.5 L450.3,417.7 L453.0,418.6 L455.8,419.8 L458.6,419.0 L461.4,419.3 L462.9,418.9M473.6,418.9 L474.8,419.6 L477.1,420.3 L479.4,420.7 L481.7,421.2 L484.0,421.9 L484.4,421.7M496.5,420.0 L497.6,419.6 L499.9,418.0 L502.2,416.9 L504.6,416.2 L506.9,415.2 L508.1,414.6M519.4,410.2 L519.9,409.2 L521.0,406.8 L522.0,404.0 L523.0,401.7 L525.5,400.0 L527.0,398.7M535.7,399.9 L536.4,401.4 L537.5,403.7 L538.7,406.1 L542.2,409.5 L544.4,409.8M555.2,408.2 L556.1,407.2 L557.8,405.3 L559.6,404.1 L562.2,403.5 L564.8,402.5 L566.5,400.6M573.3,394.5 L574.1,393.1 L575.5,391.6 L577.0,390.2 L579.6,387.9 L582.2,386.2 L584.5,385.0M590.7,377.0 L591.5,375.8 L593.0,374.1 L594.5,372.9 L596.0,370.9 L596.0,370.9M599.9,362.8 L600.3,362.4 L601.6,359.7 L602.9,357.8 L604.1,356.2 L605.4,354.3 L605.8,353.7M609.3,345.4 L610.0,342.9 L610.6,340.7 L611.3,338.6 L611.9,336.3 L612.6,333.4 L613.3,331.4 L613.9,329.9 L614.6,327.0 L615.3,325.5 L615.7,324.0M619.3,311.9 L619.9,310.6 L620.6,308.0 L621.2,305.7 L621.8,303.9 L622.3,301.2 L622.8,298.7 L623.4,296.5 L623.9,294.5 L624.4,292.2 L624.9,289.6 L625.2,287.9M628.0,279.2 L628.2,278.7 L629.1,276.1 L629.9,274.4 L630.8,272.3 L631.6,269.7 L632.2,268.4M638.7,269.2 L639.7,267.1 L640.9,264.6 L642.0,262.4 L643.8,261.5 L644.6,260.6M655.9,258.4 L656.2,258.0 L657.4,255.6 L658.6,253.4 L659.2,255.4 L659.9,257.6 L660.6,259.8 L660.8,260.4M667.5,260.7 L668.6,259.9 L670.8,257.3 L671.7,260.2 L673.5,257.5 L675.2,255.3 L675.6,256.2M679.4,248.6 L680.5,249.9 L682.6,251.5 L684.6,253.1 L685.1,255.5 L685.7,257.4 L686.2,260.4 L686.2,260.5M687.8,271.4 L688.2,273.5 L688.7,276.0 L689.2,277.9 L689.8,280.4 L690.3,282.8 L690.6,284.2M696.7,295.0 L697.0,295.4 L698.2,297.6 L699.4,300.2 L700.6,301.9 L701.9,304.2 L703.1,306.3 L704.3,308.8 L704.9,309.9M709.3,318.0 L709.8,318.8 L710.9,321.3 L712.0,323.2 L712.9,325.1 L713.8,327.8 L714.0,328.2M717.4,336.8 L718.2,338.6 L719.1,340.8 L720.0,342.9 L720.9,345.6 L721.6,347.2M726.8,352.8 L727.4,352.3 L729.1,350.2 L730.8,347.9 L732.4,346.7 L734.0,344.1 L735.7,342.8 L737.4,340.8 L738.1,340.1M744.2,348.2 L744.5,349.1 L745.3,350.9 L746.1,352.9 L746.9,355.5 L748.5,357.1 L750.0,358.2 L750.8,359.3M759.1,364.1 L759.6,365.2 L760.5,367.4 L761.5,368.7 L762.5,370.8 L764.1,372.9 L765.6,375.3 L766.3,376.0M776.1,381.1 L776.8,381.6 L778.7,383.8 L780.5,385.4 L782.3,386.6 L784.2,388.4 L784.9,388.8M793.3,395.7 L795.3,396.7 L797.7,398.8 L800.0,399.8 L801.6,401.2 L803.2,403.1 L804.8,405.0 L805.5,405.7M815.5,408.3 L816.5,408.4 L818.9,408.6 L821.2,409.6 L823.6,410.3 L825.9,410.5 L828.3,411.2 L829.3,411.3M839.0,415.8 L840.0,416.0 L842.4,416.2 L844.7,416.5 L847.0,417.3 L849.3,418.0 L851.7,418.5 L852.7,418.5M864.0,417.9 L865.0,418.1 L867.4,418.3 L869.7,417.7 L872.0,418.1 L874.3,418.2 L876.7,418.2 L877.7,418.2M887.9,417.9 L889.1,417.4 L891.2,415.6 L893.4,415.4 L895.5,414.0 L897.7,412.7 L899.8,411.6 L900.7,411.5M911.1,404.0 L911.7,403.5 L913.3,401.5 L915.0,400.4 L916.7,398.4 L918.4,396.9 L920.0,395.4 L920.7,394.9M929.5,391.0 L930.4,390.7 L932.5,390.0 L934.7,389.4 L936.9,388.8 L939.0,388.4 L940.0,387.9M951.4,382.0 L952.2,381.5 L954.3,379.5 L958.4,380.0 L960.9,378.8 L962.1,380.9 L962.8,382.2" fill="none" stroke="#1f38e0" stroke-width="2.6" stroke-linejoin="round" stroke-linecap="round"/>
<line x1="133.7" y1="155.75" x2="169.9" y2="155.75" stroke="#0b2233" stroke-width="2.4" stroke-linecap="round"/>
<text x="175.5" y="159.8" class="lg">0-9</text>
<line x1="133.7" y1="172.7" x2="169.9" y2="172.7" stroke="#18a8ec" stroke-width="2.4" stroke-linecap="round"/>
<text x="175.5" y="176.7" class="lg">10-19</text>
<line x1="133.7" y1="189.7" x2="169.9" y2="189.7" stroke="#1f38e0" stroke-width="2.4" stroke-linecap="round"/>
<text x="175.5" y="193.7" class="lg">20-29</text>
<line x1="213.9" y1="155.75" x2="249.9" y2="155.75" stroke="#a9e2ef" stroke-width="2.4" stroke-linecap="round"/>
<text x="256.2" y="159.8" class="lg">30-39</text>
<line x1="213.9" y1="172.7" x2="249.9" y2="172.7" stroke="#3f92ac" stroke-width="2.4" stroke-linecap="round"/>
<text x="256.2" y="176.7" class="lg">40-49</text>
<line x1="213.9" y1="189.7" x2="249.9" y2="189.7" stroke="#adbbfb" stroke-width="2.4" stroke-linecap="round"/>
<text x="256.2" y="193.7" class="lg">50-59</text>
<line x1="294.2" y1="155.75" x2="330.3" y2="155.75" stroke="#0b2233" stroke-width="2.4" stroke-linecap="round" stroke-dasharray="13.4 9.4"/>
<text x="336.2" y="159.8" class="lg">60-69</text>
<line x1="294.2" y1="172.7" x2="330.3" y2="172.7" stroke="#18a8ec" stroke-width="2.4" stroke-linecap="round" stroke-dasharray="13.4 9.4"/>
<text x="336.2" y="176.7" class="lg">70-79</text>
<line x1="294.2" y1="189.7" x2="330.3" y2="189.7" stroke="#1f38e0" stroke-width="2.4" stroke-linecap="round" stroke-dasharray="13.4 9.4"/>
<text x="336.2" y="193.7" class="lg">80+</text>
</svg>
<p class="t b" style="top:470.69px"><span class="d">•</span>All age groups by decade are increasing</p>
<p class="t b" style="top:497.99px;word-spacing:0.38px"><span class="d">•</span>Those aged 10-19 have the highest case rates, followed by 20-29, 30-39, 40-49, and 50-59</p>
<p class="t b" style="top:524.09px;word-spacing:0.48px"><span class="d">•</span>There are over 6,400 new cases per day (<span class="ar">↑</span>900)</p>
<p class="t n" style="top:554.91px">Note: Case information sourced from MDHHS and reflects date of onset of symptoms</p>
<p class="t n" style="top:565.51px">Source: MDHHS – Michigan Disease Surveillance System</p>
</body></html>
